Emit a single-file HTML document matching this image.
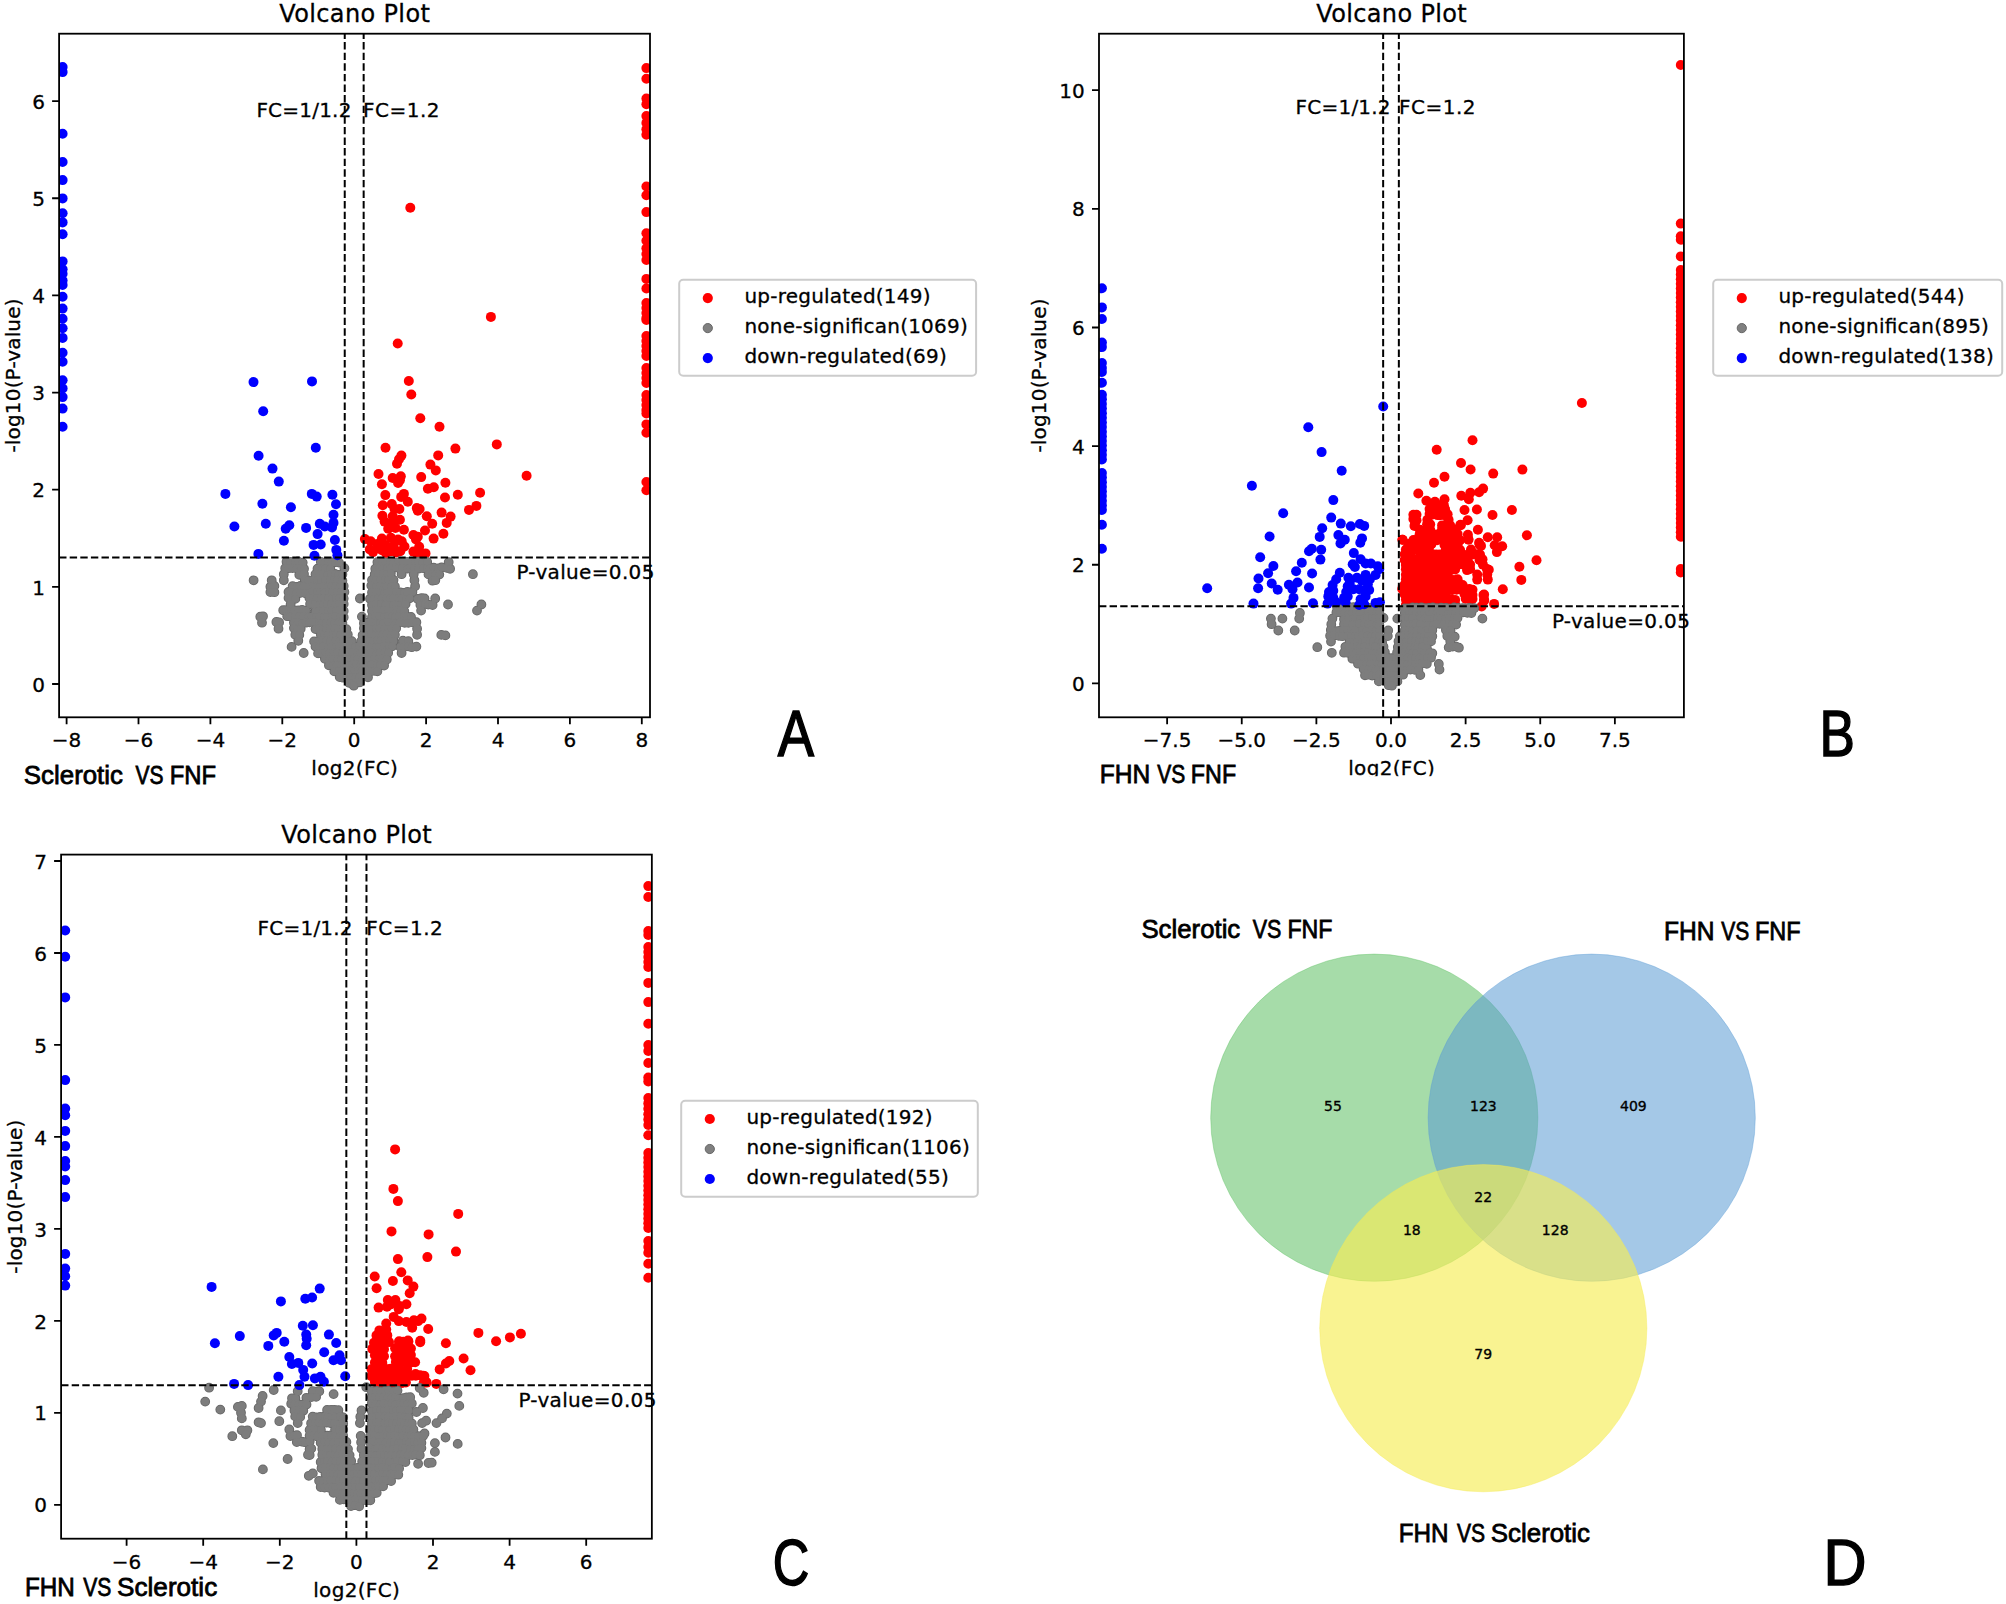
<!DOCTYPE html><html><head><meta charset="utf-8"><title>Volcano plots and Venn diagram</title>
<style>html,body{margin:0;padding:0;background:#fff}svg{display:block}text{fill:#000}</style></head><body>
<svg width="2006" height="1604" viewBox="0 0 2006 1604" role="img" aria-label="Volcano plots A-C and Venn diagram D">
<rect width="2006" height="1604" fill="#fff"/>
<clipPath id="cA"><rect x="59.1" y="33.7" width="590.9" height="683.5999999999999"/></clipPath>
<g clip-path="url(#cA)">
<g fill="#ff0000"><circle cx="410.3" cy="207.7" r="5.0"/><circle cx="490.9" cy="316.9" r="5.0"/><circle cx="397.7" cy="343.5" r="5.0"/><circle cx="408.8" cy="381" r="5.0"/><circle cx="411.3" cy="394.5" r="5.0"/><circle cx="420.3" cy="418.3" r="5.0"/><circle cx="439.5" cy="426.8" r="5.0"/><circle cx="496.8" cy="444.4" r="5.0"/><circle cx="455.4" cy="448.6" r="5.0"/><circle cx="385.5" cy="447.7" r="5.0"/><circle cx="438.2" cy="455.4" r="5.0"/><circle cx="401.4" cy="455.6" r="5.0"/><circle cx="399" cy="459.2" r="5.0"/><circle cx="397" cy="463.7" r="5.0"/><circle cx="430.4" cy="464.6" r="5.0"/><circle cx="435.8" cy="470.4" r="5.0"/><circle cx="378.5" cy="474" r="5.0"/><circle cx="526.6" cy="475.8" r="5.0"/><circle cx="421.2" cy="477.1" r="5.0"/><circle cx="400.8" cy="476.2" r="5.0"/><circle cx="392.7" cy="478" r="5.0"/><circle cx="399.9" cy="480.3" r="5.0"/><circle cx="398.1" cy="483" r="5.0"/><circle cx="381.9" cy="484.3" r="5.0"/><circle cx="445.4" cy="482.8" r="5.0"/><circle cx="433.8" cy="487.2" r="5.0"/><circle cx="427.9" cy="488.8" r="5.0"/><circle cx="480.1" cy="492.8" r="5.0"/><circle cx="457.8" cy="494.8" r="5.0"/><circle cx="385.3" cy="495.1" r="5.0"/><circle cx="403.9" cy="493.9" r="5.0"/><circle cx="401.2" cy="496.9" r="5.0"/><circle cx="445" cy="497.5" r="5.0"/><circle cx="407.8" cy="501.8" r="5.0"/><circle cx="391.8" cy="504.1" r="5.0"/><circle cx="382.8" cy="505.2" r="5.0"/><circle cx="476.4" cy="505.9" r="5.0"/><circle cx="469" cy="509.9" r="5.0"/><circle cx="416.8" cy="508.1" r="5.0"/><circle cx="419.6" cy="509" r="5.0"/><circle cx="417.8" cy="510.8" r="5.0"/><circle cx="399.4" cy="509" r="5.0"/><circle cx="394.5" cy="509" r="5.0"/><circle cx="441.6" cy="512.6" r="5.0"/><circle cx="450.6" cy="516.6" r="5.0"/><circle cx="446.7" cy="522.9" r="5.0"/><circle cx="426.8" cy="516.2" r="5.0"/><circle cx="432.2" cy="523.8" r="5.0"/><circle cx="382.4" cy="515.7" r="5.0"/><circle cx="392.7" cy="516.2" r="5.0"/><circle cx="384.6" cy="521.6" r="5.0"/><circle cx="399.9" cy="519.8" r="5.0"/><circle cx="392.7" cy="522.5" r="5.0"/><circle cx="388.2" cy="528.8" r="5.0"/><circle cx="395.4" cy="527.9" r="5.0"/><circle cx="403.9" cy="529.7" r="5.0"/><circle cx="425" cy="530.5" r="5.0"/><circle cx="443.4" cy="533.7" r="5.0"/><circle cx="433.6" cy="538.6" r="5.0"/><circle cx="413.4" cy="535" r="5.0"/><circle cx="417.8" cy="536.8" r="5.0"/><circle cx="416" cy="539.5" r="5.0"/><circle cx="364.9" cy="539.1" r="5.0"/><circle cx="370.7" cy="541.3" r="5.0"/><circle cx="381.9" cy="538.6" r="5.0"/><circle cx="390.9" cy="537.7" r="5.0"/><circle cx="398.1" cy="539.5" r="5.0"/><circle cx="401.7" cy="541.3" r="5.0"/><circle cx="377.4" cy="544" r="5.0"/><circle cx="385.5" cy="544.9" r="5.0"/><circle cx="393.6" cy="545.8" r="5.0"/><circle cx="369.8" cy="549.4" r="5.0"/><circle cx="373" cy="552.1" r="5.0"/><circle cx="381.9" cy="550.3" r="5.0"/><circle cx="390.9" cy="551.2" r="5.0"/><circle cx="400.3" cy="551.2" r="5.0"/><circle cx="419.2" cy="546.7" r="5.0"/><circle cx="413.4" cy="551.6" r="5.0"/><circle cx="425.5" cy="553.4" r="5.0"/><circle cx="417.8" cy="554.8" r="5.0"/><circle cx="396" cy="552.5" r="5.0"/><circle cx="386" cy="553" r="5.0"/><circle cx="378" cy="548" r="5.0"/><circle cx="404.5" cy="546.5" r="5.0"/><circle cx="646.4" cy="68.1" r="5.0"/><circle cx="646.4" cy="78.7" r="5.0"/><circle cx="646.4" cy="98.6" r="5.0"/><circle cx="646.4" cy="104.2" r="5.0"/><circle cx="646.4" cy="116.1" r="5.0"/><circle cx="646.4" cy="122.9" r="5.0"/><circle cx="646.4" cy="129.2" r="5.0"/><circle cx="646.4" cy="134.8" r="5.0"/><circle cx="646.4" cy="186.5" r="5.0"/><circle cx="646.4" cy="195.3" r="5.0"/><circle cx="646.4" cy="212.1" r="5.0"/><circle cx="646.4" cy="233.3" r="5.0"/><circle cx="646.4" cy="240.8" r="5.0"/><circle cx="646.4" cy="248.3" r="5.0"/><circle cx="646.4" cy="254" r="5.0"/><circle cx="646.4" cy="260" r="5.0"/><circle cx="646.4" cy="278.9" r="5.0"/><circle cx="646.4" cy="288.5" r="5.0"/><circle cx="646.4" cy="303" r="5.0"/><circle cx="646.4" cy="308" r="5.0"/><circle cx="646.4" cy="313" r="5.0"/><circle cx="646.4" cy="318" r="5.0"/><circle cx="646.4" cy="320" r="5.0"/><circle cx="646.4" cy="336" r="5.0"/><circle cx="646.4" cy="341" r="5.0"/><circle cx="646.4" cy="346" r="5.0"/><circle cx="646.4" cy="351" r="5.0"/><circle cx="646.4" cy="356" r="5.0"/><circle cx="646.4" cy="368" r="5.0"/><circle cx="646.4" cy="373" r="5.0"/><circle cx="646.4" cy="378" r="5.0"/><circle cx="646.4" cy="383" r="5.0"/><circle cx="646.4" cy="395" r="5.0"/><circle cx="646.4" cy="400" r="5.0"/><circle cx="646.4" cy="405" r="5.0"/><circle cx="646.4" cy="410" r="5.0"/><circle cx="646.4" cy="413.5" r="5.0"/><circle cx="646.4" cy="424.4" r="5.0"/><circle cx="646.4" cy="432.7" r="5.0"/><circle cx="646.4" cy="482" r="5.0"/><circle cx="646.4" cy="490.3" r="5.0"/></g>
<defs><g id="g1"><circle cx="286.5" cy="561.7" r="3.9"/><circle cx="290.6" cy="561.9" r="3.9"/><circle cx="294.8" cy="562.3" r="3.9"/><circle cx="298" cy="561.4" r="3.9"/><circle cx="302.7" cy="562.6" r="3.9"/><circle cx="320.8" cy="561.8" r="3.9"/><circle cx="324.1" cy="562.8" r="3.9"/><circle cx="328.1" cy="562.6" r="3.9"/><circle cx="331.7" cy="562.3" r="3.9"/><circle cx="334.8" cy="562.3" r="3.9"/><circle cx="339" cy="562.6" r="3.9"/><circle cx="377.4" cy="562.1" r="3.9"/><circle cx="381.9" cy="562.4" r="3.9"/><circle cx="385" cy="562.5" r="3.9"/><circle cx="390" cy="561.8" r="3.9"/><circle cx="393.2" cy="562.6" r="3.9"/><circle cx="398.1" cy="562.4" r="3.9"/><circle cx="402.9" cy="562.4" r="3.9"/><circle cx="407.1" cy="562" r="3.9"/><circle cx="411.1" cy="562" r="3.9"/><circle cx="415.4" cy="562.6" r="3.9"/><circle cx="418.2" cy="561.6" r="3.9"/><circle cx="422.6" cy="562.8" r="3.9"/><circle cx="427.2" cy="562" r="3.9"/><circle cx="448.7" cy="562.1" r="3.9"/><circle cx="285.2" cy="568.3" r="3.9"/><circle cx="288.6" cy="568.2" r="3.9"/><circle cx="292.5" cy="568" r="3.9"/><circle cx="296.6" cy="568.3" r="3.9"/><circle cx="300.9" cy="568.4" r="3.9"/><circle cx="304" cy="568.8" r="3.9"/><circle cx="317.5" cy="568.7" r="3.9"/><circle cx="322.5" cy="568.4" r="3.9"/><circle cx="325.5" cy="568.7" r="3.9"/><circle cx="330.3" cy="568.8" r="3.9"/><circle cx="344.4" cy="568.2" r="3.9"/><circle cx="375.3" cy="568.7" r="3.9"/><circle cx="379.4" cy="568.5" r="3.9"/><circle cx="382.7" cy="568.6" r="3.9"/><circle cx="387.3" cy="567.9" r="3.9"/><circle cx="390.4" cy="568.7" r="3.9"/><circle cx="395.8" cy="567.6" r="3.9"/><circle cx="399.4" cy="568" r="3.9"/><circle cx="402.3" cy="567.9" r="3.9"/><circle cx="407.2" cy="568.7" r="3.9"/><circle cx="410" cy="568.3" r="3.9"/><circle cx="413.9" cy="568.5" r="3.9"/><circle cx="418.3" cy="568.7" r="3.9"/><circle cx="423.3" cy="568.2" r="3.9"/><circle cx="427.3" cy="567.9" r="3.9"/><circle cx="429.7" cy="568.3" r="3.9"/><circle cx="433.6" cy="567.7" r="3.9"/><circle cx="438.1" cy="568.3" r="3.9"/><circle cx="441.6" cy="567.5" r="3.9"/><circle cx="446.7" cy="567.9" r="3.9"/><circle cx="450.1" cy="568.8" r="3.9"/><circle cx="283.8" cy="574.2" r="3.9"/><circle cx="299.3" cy="574.8" r="3.9"/><circle cx="304" cy="574.1" r="3.9"/><circle cx="315.5" cy="574.2" r="3.9"/><circle cx="319.3" cy="574.4" r="3.9"/><circle cx="323.3" cy="574.3" r="3.9"/><circle cx="327.2" cy="574.8" r="3.9"/><circle cx="330.9" cy="574.1" r="3.9"/><circle cx="335" cy="573.9" r="3.9"/><circle cx="338.2" cy="574.9" r="3.9"/><circle cx="342.4" cy="574.3" r="3.9"/><circle cx="374.7" cy="574.3" r="3.9"/><circle cx="377.9" cy="574.1" r="3.9"/><circle cx="382.9" cy="573.6" r="3.9"/><circle cx="387" cy="574.4" r="3.9"/><circle cx="390.8" cy="573.6" r="3.9"/><circle cx="401.6" cy="574.2" r="3.9"/><circle cx="413.7" cy="574.2" r="3.9"/><circle cx="428.5" cy="574.4" r="3.9"/><circle cx="432.1" cy="574.5" r="3.9"/><circle cx="435.5" cy="574.5" r="3.9"/><circle cx="439.3" cy="574.6" r="3.9"/><circle cx="472.9" cy="574.2" r="3.9"/><circle cx="253.6" cy="580.3" r="3.9"/><circle cx="271.7" cy="580.3" r="3.9"/><circle cx="283.8" cy="580.3" r="3.9"/><circle cx="304.7" cy="579.6" r="3.9"/><circle cx="308.2" cy="580.5" r="3.9"/><circle cx="313.8" cy="579.9" r="3.9"/><circle cx="317.2" cy="580.4" r="3.9"/><circle cx="321.2" cy="580.1" r="3.9"/><circle cx="325.3" cy="580.1" r="3.9"/><circle cx="330" cy="580" r="3.9"/><circle cx="333.8" cy="580.7" r="3.9"/><circle cx="337.4" cy="580.4" r="3.9"/><circle cx="342.4" cy="580.6" r="3.9"/><circle cx="372" cy="580" r="3.9"/><circle cx="375.8" cy="580.7" r="3.9"/><circle cx="380.2" cy="579.8" r="3.9"/><circle cx="384.8" cy="580.6" r="3.9"/><circle cx="388.6" cy="580" r="3.9"/><circle cx="393.5" cy="580" r="3.9"/><circle cx="414.4" cy="580.3" r="3.9"/><circle cx="432.5" cy="580.7" r="3.9"/><circle cx="435.3" cy="580.2" r="3.9"/><circle cx="270.4" cy="586.8" r="3.9"/><circle cx="274.4" cy="585.9" r="3.9"/><circle cx="292.6" cy="586.1" r="3.9"/><circle cx="296.7" cy="586.9" r="3.9"/><circle cx="300.4" cy="586" r="3.9"/><circle cx="303.8" cy="586.4" r="3.9"/><circle cx="307.8" cy="586.8" r="3.9"/><circle cx="312.8" cy="585.9" r="3.9"/><circle cx="315.8" cy="586.8" r="3.9"/><circle cx="320.4" cy="586.8" r="3.9"/><circle cx="323.8" cy="585.8" r="3.9"/><circle cx="327.7" cy="586.8" r="3.9"/><circle cx="331.6" cy="586.1" r="3.9"/><circle cx="335.7" cy="586.2" r="3.9"/><circle cx="339.7" cy="586.9" r="3.9"/><circle cx="343.7" cy="585.9" r="3.9"/><circle cx="371.3" cy="585.6" r="3.9"/><circle cx="375.9" cy="586.9" r="3.9"/><circle cx="379.9" cy="586.2" r="3.9"/><circle cx="383.8" cy="586.9" r="3.9"/><circle cx="386.6" cy="586.7" r="3.9"/><circle cx="391.5" cy="586.6" r="3.9"/><circle cx="394.9" cy="586.4" r="3.9"/><circle cx="415.1" cy="586.3" r="3.9"/><circle cx="270.4" cy="592.1" r="3.9"/><circle cx="274.4" cy="592.2" r="3.9"/><circle cx="288.5" cy="592" r="3.9"/><circle cx="291.8" cy="592.5" r="3.9"/><circle cx="296.2" cy="592.8" r="3.9"/><circle cx="299.8" cy="593" r="3.9"/><circle cx="304.8" cy="593" r="3.9"/><circle cx="309.1" cy="593" r="3.9"/><circle cx="312.6" cy="591.7" r="3.9"/><circle cx="316.9" cy="591.9" r="3.9"/><circle cx="320.1" cy="592.6" r="3.9"/><circle cx="324.5" cy="592.3" r="3.9"/><circle cx="329.1" cy="592.6" r="3.9"/><circle cx="332.2" cy="592" r="3.9"/><circle cx="337" cy="592.4" r="3.9"/><circle cx="340.9" cy="592.2" r="3.9"/><circle cx="344.4" cy="592" r="3.9"/><circle cx="372" cy="592.4" r="3.9"/><circle cx="376.5" cy="591.9" r="3.9"/><circle cx="380.5" cy="593" r="3.9"/><circle cx="384.6" cy="592.8" r="3.9"/><circle cx="387.4" cy="592.6" r="3.9"/><circle cx="392.8" cy="591.8" r="3.9"/><circle cx="395.9" cy="592.1" r="3.9"/><circle cx="400.3" cy="592.3" r="3.9"/><circle cx="404.3" cy="592.8" r="3.9"/><circle cx="407.5" cy="591.8" r="3.9"/><circle cx="412.4" cy="591.9" r="3.9"/><circle cx="288.5" cy="597.9" r="3.9"/><circle cx="291.2" cy="599.1" r="3.9"/><circle cx="295.3" cy="598.9" r="3.9"/><circle cx="309.4" cy="597.9" r="3.9"/><circle cx="313.2" cy="598.2" r="3.9"/><circle cx="316.7" cy="598.2" r="3.9"/><circle cx="321.1" cy="598.6" r="3.9"/><circle cx="324.4" cy="598" r="3.9"/><circle cx="328.2" cy="597.9" r="3.9"/><circle cx="332.4" cy="598.8" r="3.9"/><circle cx="335.9" cy="597.9" r="3.9"/><circle cx="339.4" cy="598.3" r="3.9"/><circle cx="343.7" cy="598.6" r="3.9"/><circle cx="359.9" cy="598.5" r="3.9"/><circle cx="370" cy="598.8" r="3.9"/><circle cx="373.7" cy="598.9" r="3.9"/><circle cx="378.1" cy="598.4" r="3.9"/><circle cx="381.7" cy="598.4" r="3.9"/><circle cx="386.2" cy="598.3" r="3.9"/><circle cx="390.1" cy="598.4" r="3.9"/><circle cx="393.4" cy="598.5" r="3.9"/><circle cx="398.1" cy="597.9" r="3.9"/><circle cx="401.6" cy="598.3" r="3.9"/><circle cx="406.3" cy="599.1" r="3.9"/><circle cx="409.7" cy="598.3" r="3.9"/><circle cx="417.7" cy="599" r="3.9"/><circle cx="421.6" cy="598.1" r="3.9"/><circle cx="424.5" cy="598.4" r="3.9"/><circle cx="435.2" cy="598.5" r="3.9"/><circle cx="290.6" cy="604.5" r="3.9"/><circle cx="310.1" cy="604" r="3.9"/><circle cx="314.8" cy="604.7" r="3.9"/><circle cx="319.1" cy="604.9" r="3.9"/><circle cx="323" cy="604.8" r="3.9"/><circle cx="327" cy="604" r="3.9"/><circle cx="331.3" cy="603.8" r="3.9"/><circle cx="334.8" cy="604.9" r="3.9"/><circle cx="338.8" cy="603.9" r="3.9"/><circle cx="343.7" cy="603.9" r="3.9"/><circle cx="372" cy="605" r="3.9"/><circle cx="375.7" cy="603.8" r="3.9"/><circle cx="380.9" cy="604" r="3.9"/><circle cx="385.2" cy="604.8" r="3.9"/><circle cx="389.4" cy="605.1" r="3.9"/><circle cx="393.2" cy="604.9" r="3.9"/><circle cx="396.5" cy="604.9" r="3.9"/><circle cx="401.5" cy="604.8" r="3.9"/><circle cx="405.6" cy="604" r="3.9"/><circle cx="420.4" cy="604.9" r="3.9"/><circle cx="425.2" cy="603.9" r="3.9"/><circle cx="428.2" cy="604.6" r="3.9"/><circle cx="432.6" cy="605" r="3.9"/><circle cx="448" cy="604.5" r="3.9"/><circle cx="481.4" cy="604.5" r="3.9"/><circle cx="283.2" cy="610.2" r="3.9"/><circle cx="286.5" cy="610.2" r="3.9"/><circle cx="291" cy="610.9" r="3.9"/><circle cx="294.4" cy="610.4" r="3.9"/><circle cx="298.3" cy="610.4" r="3.9"/><circle cx="302.1" cy="610" r="3.9"/><circle cx="306.1" cy="610.6" r="3.9"/><circle cx="315.5" cy="611.2" r="3.9"/><circle cx="319.4" cy="610.9" r="3.9"/><circle cx="323" cy="610.8" r="3.9"/><circle cx="328" cy="610.8" r="3.9"/><circle cx="331.6" cy="610.5" r="3.9"/><circle cx="335.9" cy="611.1" r="3.9"/><circle cx="339.1" cy="610" r="3.9"/><circle cx="343.7" cy="610.9" r="3.9"/><circle cx="372" cy="611.1" r="3.9"/><circle cx="376" cy="610.5" r="3.9"/><circle cx="380.4" cy="610.1" r="3.9"/><circle cx="383.7" cy="610.1" r="3.9"/><circle cx="388.3" cy="610.3" r="3.9"/><circle cx="391.8" cy="610.8" r="3.9"/><circle cx="396.9" cy="610.3" r="3.9"/><circle cx="400.6" cy="610.4" r="3.9"/><circle cx="404.3" cy="611.1" r="3.9"/><circle cx="421.1" cy="610.6" r="3.9"/><circle cx="477" cy="610.6" r="3.9"/><circle cx="260.3" cy="616.7" r="3.9"/><circle cx="263" cy="616.3" r="3.9"/><circle cx="287.2" cy="616.2" r="3.9"/><circle cx="290.5" cy="616.6" r="3.9"/><circle cx="295.1" cy="616.2" r="3.9"/><circle cx="299.1" cy="616.4" r="3.9"/><circle cx="303.8" cy="616.1" r="3.9"/><circle cx="308.2" cy="616.6" r="3.9"/><circle cx="311.6" cy="616.6" r="3.9"/><circle cx="316" cy="617.1" r="3.9"/><circle cx="319.6" cy="616.6" r="3.9"/><circle cx="323.9" cy="617.1" r="3.9"/><circle cx="327.4" cy="616.9" r="3.9"/><circle cx="332.4" cy="616.6" r="3.9"/><circle cx="335.2" cy="616.3" r="3.9"/><circle cx="340" cy="616.9" r="3.9"/><circle cx="343.7" cy="617.3" r="3.9"/><circle cx="361.9" cy="616.6" r="3.9"/><circle cx="372" cy="617.1" r="3.9"/><circle cx="375.5" cy="616.2" r="3.9"/><circle cx="379.4" cy="616.2" r="3.9"/><circle cx="384" cy="617.1" r="3.9"/><circle cx="388.2" cy="616.3" r="3.9"/><circle cx="392.1" cy="616.4" r="3.9"/><circle cx="395.3" cy="616.9" r="3.9"/><circle cx="398.7" cy="616.1" r="3.9"/><circle cx="403.8" cy="616.3" r="3.9"/><circle cx="406.9" cy="616.7" r="3.9"/><circle cx="411" cy="616.9" r="3.9"/><circle cx="262" cy="622.7" r="3.9"/><circle cx="276.4" cy="622" r="3.9"/><circle cx="279.1" cy="622.4" r="3.9"/><circle cx="293.9" cy="622.6" r="3.9"/><circle cx="297.9" cy="622.3" r="3.9"/><circle cx="302.1" cy="623.3" r="3.9"/><circle cx="305.9" cy="622.7" r="3.9"/><circle cx="309.5" cy="622.4" r="3.9"/><circle cx="314.4" cy="622.1" r="3.9"/><circle cx="318.8" cy="623.3" r="3.9"/><circle cx="321.6" cy="623.3" r="3.9"/><circle cx="326" cy="623.1" r="3.9"/><circle cx="330.7" cy="622.4" r="3.9"/><circle cx="334.6" cy="622.9" r="3.9"/><circle cx="338.8" cy="622.4" r="3.9"/><circle cx="342.4" cy="623" r="3.9"/><circle cx="363.9" cy="623.3" r="3.9"/><circle cx="368.2" cy="622.7" r="3.9"/><circle cx="371.4" cy="622.7" r="3.9"/><circle cx="375.8" cy="623" r="3.9"/><circle cx="380.3" cy="622.8" r="3.9"/><circle cx="383.6" cy="622.9" r="3.9"/><circle cx="388.4" cy="622.2" r="3.9"/><circle cx="392.8" cy="622.9" r="3.9"/><circle cx="395.6" cy="623.3" r="3.9"/><circle cx="399.7" cy="622.4" r="3.9"/><circle cx="404.7" cy="622.8" r="3.9"/><circle cx="408.4" cy="622.9" r="3.9"/><circle cx="412.3" cy="622.4" r="3.9"/><circle cx="416.4" cy="622.2" r="3.9"/><circle cx="278.5" cy="628.7" r="3.9"/><circle cx="293.9" cy="628.1" r="3.9"/><circle cx="297.6" cy="629.1" r="3.9"/><circle cx="300.7" cy="628.8" r="3.9"/><circle cx="315.5" cy="629.1" r="3.9"/><circle cx="319.1" cy="628.4" r="3.9"/><circle cx="323" cy="629.3" r="3.9"/><circle cx="326.3" cy="628.7" r="3.9"/><circle cx="330.5" cy="629.1" r="3.9"/><circle cx="334.6" cy="628.5" r="3.9"/><circle cx="338.5" cy="628.8" r="3.9"/><circle cx="343" cy="628.5" r="3.9"/><circle cx="346.4" cy="629.2" r="3.9"/><circle cx="363.9" cy="628.2" r="3.9"/><circle cx="367.6" cy="628.2" r="3.9"/><circle cx="371.4" cy="629.1" r="3.9"/><circle cx="376.4" cy="628.3" r="3.9"/><circle cx="379.6" cy="628.6" r="3.9"/><circle cx="384.5" cy="629.2" r="3.9"/><circle cx="388.5" cy="628.9" r="3.9"/><circle cx="391.6" cy="628.6" r="3.9"/><circle cx="396.2" cy="628.3" r="3.9"/><circle cx="417.1" cy="628.7" r="3.9"/><circle cx="295.3" cy="634.8" r="3.9"/><circle cx="299.3" cy="634.9" r="3.9"/><circle cx="320.8" cy="634.4" r="3.9"/><circle cx="324.3" cy="635.2" r="3.9"/><circle cx="327.8" cy="635.2" r="3.9"/><circle cx="333" cy="635.4" r="3.9"/><circle cx="336" cy="634.9" r="3.9"/><circle cx="340.2" cy="635" r="3.9"/><circle cx="344.7" cy="635.1" r="3.9"/><circle cx="347.8" cy="634.5" r="3.9"/><circle cx="362.6" cy="635.3" r="3.9"/><circle cx="366.6" cy="634.9" r="3.9"/><circle cx="371" cy="634.1" r="3.9"/><circle cx="375.1" cy="635" r="3.9"/><circle cx="378.7" cy="634.8" r="3.9"/><circle cx="382.7" cy="634.4" r="3.9"/><circle cx="386.8" cy="634.1" r="3.9"/><circle cx="390.8" cy="635" r="3.9"/><circle cx="394.9" cy="634.7" r="3.9"/><circle cx="417.1" cy="634.8" r="3.9"/><circle cx="441.3" cy="634.9" r="3.9"/><circle cx="445.4" cy="635.4" r="3.9"/><circle cx="298.3" cy="640.8" r="3.9"/><circle cx="314.1" cy="641.4" r="3.9"/><circle cx="317.7" cy="641.3" r="3.9"/><circle cx="322.7" cy="640.2" r="3.9"/><circle cx="326.5" cy="640.5" r="3.9"/><circle cx="330.2" cy="640.9" r="3.9"/><circle cx="335.7" cy="640.6" r="3.9"/><circle cx="339.8" cy="641.1" r="3.9"/><circle cx="342.8" cy="641.3" r="3.9"/><circle cx="347.8" cy="641.4" r="3.9"/><circle cx="351.8" cy="641.2" r="3.9"/><circle cx="361.2" cy="641.2" r="3.9"/><circle cx="365" cy="641.3" r="3.9"/><circle cx="370" cy="641.4" r="3.9"/><circle cx="373.2" cy="641.2" r="3.9"/><circle cx="377.4" cy="640.3" r="3.9"/><circle cx="380.7" cy="640.3" r="3.9"/><circle cx="385" cy="640.4" r="3.9"/><circle cx="389.5" cy="641.1" r="3.9"/><circle cx="393.5" cy="640.9" r="3.9"/><circle cx="402.9" cy="640.7" r="3.9"/><circle cx="408.3" cy="641.1" r="3.9"/><circle cx="291.6" cy="646.9" r="3.9"/><circle cx="315.5" cy="646.6" r="3.9"/><circle cx="319.4" cy="647.3" r="3.9"/><circle cx="323.4" cy="646.5" r="3.9"/><circle cx="328.2" cy="647.2" r="3.9"/><circle cx="331.4" cy="646.7" r="3.9"/><circle cx="335.7" cy="647" r="3.9"/><circle cx="339.2" cy="646.2" r="3.9"/><circle cx="343.3" cy="647.3" r="3.9"/><circle cx="347.2" cy="646.8" r="3.9"/><circle cx="351.3" cy="646.5" r="3.9"/><circle cx="355.3" cy="646.8" r="3.9"/><circle cx="359.3" cy="646.2" r="3.9"/><circle cx="363.3" cy="646.4" r="3.9"/><circle cx="367.9" cy="646.3" r="3.9"/><circle cx="371.2" cy="646.8" r="3.9"/><circle cx="375.9" cy="647.2" r="3.9"/><circle cx="379.4" cy="646.8" r="3.9"/><circle cx="383.9" cy="646.2" r="3.9"/><circle cx="388.9" cy="646.5" r="3.9"/><circle cx="392.2" cy="646.3" r="3.9"/><circle cx="400.2" cy="646.9" r="3.9"/><circle cx="403.8" cy="647.1" r="3.9"/><circle cx="408.1" cy="646.4" r="3.9"/><circle cx="411.7" cy="647.2" r="3.9"/><circle cx="416.4" cy="646.6" r="3.9"/><circle cx="303.7" cy="653" r="3.9"/><circle cx="318.1" cy="653.4" r="3.9"/><circle cx="322" cy="653.6" r="3.9"/><circle cx="325.6" cy="652.6" r="3.9"/><circle cx="329.4" cy="653.4" r="3.9"/><circle cx="333.9" cy="652.7" r="3.9"/><circle cx="336.9" cy="653.2" r="3.9"/><circle cx="342.2" cy="653.1" r="3.9"/><circle cx="344.6" cy="652.3" r="3.9"/><circle cx="348.6" cy="652.5" r="3.9"/><circle cx="352.4" cy="652.3" r="3.9"/><circle cx="357.3" cy="653.5" r="3.9"/><circle cx="360.4" cy="653.6" r="3.9"/><circle cx="364.8" cy="653.4" r="3.9"/><circle cx="369.4" cy="653.6" r="3.9"/><circle cx="371.9" cy="652.7" r="3.9"/><circle cx="376.7" cy="653.6" r="3.9"/><circle cx="379.7" cy="652.7" r="3.9"/><circle cx="384.8" cy="652.4" r="3.9"/><circle cx="388.2" cy="652.8" r="3.9"/><circle cx="401.6" cy="653" r="3.9"/><circle cx="324.9" cy="658.8" r="3.9"/><circle cx="329.3" cy="659.6" r="3.9"/><circle cx="332.6" cy="659.4" r="3.9"/><circle cx="337.6" cy="659.5" r="3.9"/><circle cx="341.5" cy="659.6" r="3.9"/><circle cx="345.3" cy="658.9" r="3.9"/><circle cx="349.2" cy="659.4" r="3.9"/><circle cx="353.7" cy="658.7" r="3.9"/><circle cx="357.4" cy="659.3" r="3.9"/><circle cx="362.2" cy="659.3" r="3.9"/><circle cx="366" cy="659" r="3.9"/><circle cx="369.7" cy="659.3" r="3.9"/><circle cx="373.7" cy="659" r="3.9"/><circle cx="379" cy="659.3" r="3.9"/><circle cx="382" cy="658.6" r="3.9"/><circle cx="386.8" cy="659.5" r="3.9"/><circle cx="328.9" cy="665.3" r="3.9"/><circle cx="333.5" cy="665.6" r="3.9"/><circle cx="336.7" cy="665.6" r="3.9"/><circle cx="341.1" cy="664.8" r="3.9"/><circle cx="344.5" cy="664.5" r="3.9"/><circle cx="348.5" cy="665.7" r="3.9"/><circle cx="351.9" cy="665.2" r="3.9"/><circle cx="355.9" cy="664.5" r="3.9"/><circle cx="360.7" cy="664.7" r="3.9"/><circle cx="363.7" cy="664.6" r="3.9"/><circle cx="368.6" cy="665.2" r="3.9"/><circle cx="371.5" cy="664.7" r="3.9"/><circle cx="377" cy="664.7" r="3.9"/><circle cx="380.3" cy="665" r="3.9"/><circle cx="384.1" cy="665.5" r="3.9"/><circle cx="334.3" cy="671.3" r="3.9"/><circle cx="338.7" cy="671.2" r="3.9"/><circle cx="341.6" cy="670.7" r="3.9"/><circle cx="345.4" cy="671.6" r="3.9"/><circle cx="349.3" cy="670.5" r="3.9"/><circle cx="354.6" cy="670.7" r="3.9"/><circle cx="358.4" cy="670.6" r="3.9"/><circle cx="361.7" cy="670.7" r="3.9"/><circle cx="366.2" cy="671.3" r="3.9"/><circle cx="369.8" cy="671.5" r="3.9"/><circle cx="374.1" cy="670.9" r="3.9"/><circle cx="377.4" cy="671.3" r="3.9"/><circle cx="339.7" cy="677.1" r="3.9"/><circle cx="343.1" cy="677.7" r="3.9"/><circle cx="347.9" cy="677.6" r="3.9"/><circle cx="351.3" cy="677.2" r="3.9"/><circle cx="355.8" cy="677.5" r="3.9"/><circle cx="359.2" cy="677" r="3.9"/><circle cx="363.9" cy="676.6" r="3.9"/><circle cx="368" cy="677.3" r="3.9"/><circle cx="349.1" cy="682.9" r="3.9"/><circle cx="352.6" cy="682.8" r="3.9"/><circle cx="356.5" cy="682.2" r="3.9"/><circle cx="359.9" cy="682.4" r="3.9"/><circle cx="353.8" cy="685.7" r="3.9"/></g></defs><use href="#g1" fill="#676767" stroke="#676767" stroke-width="2"/><use href="#g1" fill="#7d7d7d" stroke="#7d7d7d" stroke-width="0.3"/>
<g fill="#0000ff"><circle cx="253.5" cy="382.1" r="5.0"/><circle cx="312" cy="381.4" r="5.0"/><circle cx="263.2" cy="411.3" r="5.0"/><circle cx="315.8" cy="447.8" r="5.0"/><circle cx="258.6" cy="455.8" r="5.0"/><circle cx="272.5" cy="468.6" r="5.0"/><circle cx="278.8" cy="481.6" r="5.0"/><circle cx="225.4" cy="493.9" r="5.0"/><circle cx="311.8" cy="493.9" r="5.0"/><circle cx="316.7" cy="496.6" r="5.0"/><circle cx="332.4" cy="494.8" r="5.0"/><circle cx="336" cy="504.3" r="5.0"/><circle cx="262.4" cy="503.8" r="5.0"/><circle cx="290.9" cy="507.2" r="5.0"/><circle cx="333.5" cy="514.8" r="5.0"/><circle cx="265.8" cy="523.8" r="5.0"/><circle cx="234.4" cy="526.5" r="5.0"/><circle cx="289.3" cy="525.2" r="5.0"/><circle cx="285.7" cy="528.8" r="5.0"/><circle cx="306.1" cy="527.9" r="5.0"/><circle cx="319.8" cy="523.8" r="5.0"/><circle cx="324.8" cy="526.5" r="5.0"/><circle cx="333.5" cy="522.9" r="5.0"/><circle cx="332" cy="527.4" r="5.0"/><circle cx="317.6" cy="534.1" r="5.0"/><circle cx="283.9" cy="540.7" r="5.0"/><circle cx="334.9" cy="540" r="5.0"/><circle cx="313.6" cy="544.9" r="5.0"/><circle cx="320.7" cy="544.5" r="5.0"/><circle cx="336.3" cy="549.9" r="5.0"/><circle cx="258.4" cy="553.9" r="5.0"/><circle cx="314.5" cy="555.7" r="5.0"/><circle cx="337.4" cy="555.2" r="5.0"/><circle cx="62.6" cy="67.1" r="5.0"/><circle cx="62.6" cy="72.1" r="5.0"/><circle cx="62.6" cy="133.7" r="5.0"/><circle cx="62.6" cy="162" r="5.0"/><circle cx="62.6" cy="180.1" r="5.0"/><circle cx="62.6" cy="198.4" r="5.0"/><circle cx="62.6" cy="213.3" r="5.0"/><circle cx="62.6" cy="222.4" r="5.0"/><circle cx="62.6" cy="234.3" r="5.0"/><circle cx="62.6" cy="261.4" r="5.0"/><circle cx="62.6" cy="269.3" r="5.0"/><circle cx="62.6" cy="273.7" r="5.0"/><circle cx="62.6" cy="280.5" r="5.0"/><circle cx="62.6" cy="284.9" r="5.0"/><circle cx="62.6" cy="296.7" r="5.0"/><circle cx="62.6" cy="308.6" r="5.0"/><circle cx="62.6" cy="318.8" r="5.0"/><circle cx="62.6" cy="328.3" r="5.0"/><circle cx="62.6" cy="337.9" r="5.0"/><circle cx="62.6" cy="352.8" r="5.0"/><circle cx="62.6" cy="361.8" r="5.0"/><circle cx="62.6" cy="380.3" r="5.0"/><circle cx="62.6" cy="388.4" r="5.0"/><circle cx="62.6" cy="397.1" r="5.0"/><circle cx="62.6" cy="408.6" r="5.0"/><circle cx="62.6" cy="426.7" r="5.0"/></g>
<path d="M344.74 717.3V33.7" stroke="#000" stroke-width="2" stroke-dasharray="7.4 3.2" fill="none"/>
<path d="M363.66 717.3V33.7" stroke="#000" stroke-width="2" stroke-dasharray="7.4 3.2" fill="none"/>
<path d="M59.1 557.6H650" stroke="#000" stroke-width="2" stroke-dasharray="7.4 3.2" fill="none"/>
</g>
<text x="256.4" y="116.9" font-size="20" text-anchor="start" font-family="'DejaVu Sans', sans-serif" stroke="#000" stroke-width="0.3" textLength="95" lengthAdjust="spacing" >FC=1/1.2</text>
<text x="363" y="116.9" font-size="20" text-anchor="start" font-family="'DejaVu Sans', sans-serif" stroke="#000" stroke-width="0.3" textLength="76.6" lengthAdjust="spacing" >FC=1.2</text>
<text x="516.4" y="579" font-size="20" text-anchor="start" font-family="'DejaVu Sans', sans-serif" stroke="#000" stroke-width="0.3" textLength="138" lengthAdjust="spacing" >P-value=0.05</text>
<rect x="59.1" y="33.7" width="590.9" height="683.6" fill="none" stroke="#000" stroke-width="1.8"/>
<text x="66.6" y="747.3" font-size="20" text-anchor="middle" font-family="'DejaVu Sans', sans-serif" stroke="#000" stroke-width="0.3" >−8</text>
<text x="138.5" y="747.3" font-size="20" text-anchor="middle" font-family="'DejaVu Sans', sans-serif" stroke="#000" stroke-width="0.3" >−6</text>
<text x="210.4" y="747.3" font-size="20" text-anchor="middle" font-family="'DejaVu Sans', sans-serif" stroke="#000" stroke-width="0.3" >−4</text>
<text x="282.3" y="747.3" font-size="20" text-anchor="middle" font-family="'DejaVu Sans', sans-serif" stroke="#000" stroke-width="0.3" >−2</text>
<text x="354.2" y="747.3" font-size="20" text-anchor="middle" font-family="'DejaVu Sans', sans-serif" stroke="#000" stroke-width="0.3" >0</text>
<text x="426.1" y="747.3" font-size="20" text-anchor="middle" font-family="'DejaVu Sans', sans-serif" stroke="#000" stroke-width="0.3" >2</text>
<text x="498" y="747.3" font-size="20" text-anchor="middle" font-family="'DejaVu Sans', sans-serif" stroke="#000" stroke-width="0.3" >4</text>
<text x="569.9" y="747.3" font-size="20" text-anchor="middle" font-family="'DejaVu Sans', sans-serif" stroke="#000" stroke-width="0.3" >6</text>
<text x="641.8" y="747.3" font-size="20" text-anchor="middle" font-family="'DejaVu Sans', sans-serif" stroke="#000" stroke-width="0.3" >8</text>
<text x="44.9" y="691.6" font-size="20" text-anchor="end" font-family="'DejaVu Sans', sans-serif" stroke="#000" stroke-width="0.3" >0</text>
<text x="44.9" y="594.5" font-size="20" text-anchor="end" font-family="'DejaVu Sans', sans-serif" stroke="#000" stroke-width="0.3" >1</text>
<text x="44.9" y="497.3" font-size="20" text-anchor="end" font-family="'DejaVu Sans', sans-serif" stroke="#000" stroke-width="0.3" >2</text>
<text x="44.9" y="400.1" font-size="20" text-anchor="end" font-family="'DejaVu Sans', sans-serif" stroke="#000" stroke-width="0.3" >3</text>
<text x="44.9" y="303" font-size="20" text-anchor="end" font-family="'DejaVu Sans', sans-serif" stroke="#000" stroke-width="0.3" >4</text>
<text x="44.9" y="205.8" font-size="20" text-anchor="end" font-family="'DejaVu Sans', sans-serif" stroke="#000" stroke-width="0.3" >5</text>
<text x="44.9" y="108.7" font-size="20" text-anchor="end" font-family="'DejaVu Sans', sans-serif" stroke="#000" stroke-width="0.3" >6</text>
<path d="M66.6 717.3v7M138.5 717.3v7M210.4 717.3v7M282.3 717.3v7M354.2 717.3v7M426.1 717.3v7M498 717.3v7M569.9 717.3v7M641.8 717.3v7M59.1 684h-7M59.1 586.85h-7M59.1 489.7h-7M59.1 392.55h-7M59.1 295.4h-7M59.1 198.25h-7M59.1 101.1h-7" stroke="#000" stroke-width="1.8" fill="none"/>
<text x="354.6" y="21.6" font-size="24" text-anchor="middle" font-family="'DejaVu Sans', sans-serif" stroke="#000" stroke-width="0.3" textLength="150.5" lengthAdjust="spacing" >Volcano Plot</text>
<text x="354.6" y="775.1" font-size="20" text-anchor="middle" font-family="'DejaVu Sans', sans-serif" stroke="#000" stroke-width="0.3" textLength="86.5" lengthAdjust="spacing" >log2(FC)</text>
<text transform="translate(19.5 375.5) rotate(-90)" font-size="20" text-anchor="middle" font-family="'DejaVu Sans', sans-serif" stroke="#000" stroke-width="0.3" textLength="154" lengthAdjust="spacing">-log10(P-value)</text>
<rect x="679.2" y="279.8" width="296.9" height="96" rx="4" ry="4" fill="#fff" stroke="#cccccc" stroke-width="2"/>
<circle cx="707.8" cy="298.1" r="5.1" fill="#ff0000"/>
<text x="744.4" y="303" font-size="20" text-anchor="start" font-family="'DejaVu Sans', sans-serif" stroke="#000" stroke-width="0.3" textLength="186.1" lengthAdjust="spacing" >up-regulated(149)</text>
<circle cx="707.8" cy="328.1" r="4.6" fill="#808080" stroke="#676767" stroke-width="1"/>
<text x="744.4" y="333" font-size="20" text-anchor="start" font-family="'DejaVu Sans', sans-serif" stroke="#000" stroke-width="0.3" textLength="223.4" lengthAdjust="spacing" >none-significan(1069)</text>
<circle cx="707.8" cy="358.1" r="5.1" fill="#0000ff"/>
<text x="744.4" y="363" font-size="20" text-anchor="start" font-family="'DejaVu Sans', sans-serif" stroke="#000" stroke-width="0.3" textLength="202.3" lengthAdjust="spacing" >down-regulated(69)</text>
<clipPath id="cB"><rect x="1099.0" y="33.7" width="584.9000000000001" height="683.5999999999999"/></clipPath>
<g clip-path="url(#cB)">
<g fill="#ff0000"><circle cx="1472.5" cy="440.2" r="5.0"/><circle cx="1436.7" cy="449.7" r="5.0"/><circle cx="1461" cy="463" r="5.0"/><circle cx="1470.6" cy="469.5" r="5.0"/><circle cx="1522.4" cy="469.6" r="5.0"/><circle cx="1493.2" cy="473.6" r="5.0"/><circle cx="1444.5" cy="476.7" r="5.0"/><circle cx="1434" cy="482.7" r="5.0"/><circle cx="1483.1" cy="488.6" r="5.0"/><circle cx="1479.1" cy="492.3" r="5.0"/><circle cx="1470.4" cy="492.7" r="5.0"/><circle cx="1461.3" cy="495.7" r="5.0"/><circle cx="1468.8" cy="499.2" r="5.0"/><circle cx="1418.3" cy="493.5" r="5.0"/><circle cx="1426.4" cy="500.8" r="5.0"/><circle cx="1434.9" cy="501.7" r="5.0"/><circle cx="1444.5" cy="499.2" r="5.0"/><circle cx="1511.9" cy="510" r="5.0"/><circle cx="1476.9" cy="509.5" r="5.0"/><circle cx="1464.5" cy="510" r="5.0"/><circle cx="1492.5" cy="515" r="5.0"/><circle cx="1414.9" cy="516.6" r="5.0"/><circle cx="1414.5" cy="526" r="5.0"/><circle cx="1467.6" cy="520.3" r="5.0"/><circle cx="1460.8" cy="525.3" r="5.0"/><circle cx="1477.9" cy="529.7" r="5.0"/><circle cx="1526.9" cy="535.3" r="5.0"/><circle cx="1487.8" cy="537.2" r="5.0"/><circle cx="1497.2" cy="537.2" r="5.0"/><circle cx="1468.3" cy="539" r="5.0"/><circle cx="1479.1" cy="542.8" r="5.0"/><circle cx="1481" cy="545.9" r="5.0"/><circle cx="1494.7" cy="545.3" r="5.0"/><circle cx="1502.2" cy="546.2" r="5.0"/><circle cx="1496.9" cy="552.1" r="5.0"/><circle cx="1402.5" cy="539.7" r="5.0"/><circle cx="1536.5" cy="560.2" r="5.0"/><circle cx="1519.4" cy="566.7" r="5.0"/><circle cx="1521.3" cy="579.9" r="5.0"/><circle cx="1502.8" cy="589.2" r="5.0"/><circle cx="1494.1" cy="603.9" r="5.0"/><circle cx="1483.5" cy="595.1" r="5.0"/><circle cx="1484.1" cy="600.8" r="5.0"/><circle cx="1481.6" cy="606.4" r="5.0"/><circle cx="1432.1" cy="504.9" r="5.0"/><circle cx="1436.4" cy="505.2" r="5.0"/><circle cx="1440.7" cy="505.1" r="5.0"/><circle cx="1443.9" cy="505.4" r="5.0"/><circle cx="1429.6" cy="509.1" r="5.0"/><circle cx="1433.4" cy="510.4" r="5.0"/><circle cx="1437.6" cy="510.3" r="5.0"/><circle cx="1440.6" cy="509.7" r="5.0"/><circle cx="1445.1" cy="509.4" r="5.0"/><circle cx="1413.4" cy="514.8" r="5.0"/><circle cx="1416.5" cy="514.8" r="5.0"/><circle cx="1429.6" cy="514.1" r="5.0"/><circle cx="1432.7" cy="514.4" r="5.0"/><circle cx="1437.5" cy="515.1" r="5.0"/><circle cx="1439.9" cy="515.2" r="5.0"/><circle cx="1443.4" cy="514.9" r="5.0"/><circle cx="1447.6" cy="514.2" r="5.0"/><circle cx="1413.4" cy="519" r="5.0"/><circle cx="1416.5" cy="520.2" r="5.0"/><circle cx="1427.4" cy="519.7" r="5.0"/><circle cx="1448.6" cy="519.7" r="5.0"/><circle cx="1414.9" cy="524.7" r="5.0"/><circle cx="1427.1" cy="524.3" r="5.0"/><circle cx="1430.2" cy="524.3" r="5.0"/><circle cx="1442.1" cy="525.4" r="5.0"/><circle cx="1446.7" cy="524.4" r="5.0"/><circle cx="1450.1" cy="525.4" r="5.0"/><circle cx="1460.4" cy="524.7" r="5.0"/><circle cx="1419.9" cy="529.7" r="5.0"/><circle cx="1427.1" cy="529.8" r="5.0"/><circle cx="1430.2" cy="529.9" r="5.0"/><circle cx="1442.1" cy="529.3" r="5.0"/><circle cx="1447.1" cy="530" r="5.0"/><circle cx="1451.5" cy="530.2" r="5.0"/><circle cx="1455.1" cy="529.4" r="5.0"/><circle cx="1419.6" cy="534.5" r="5.0"/><circle cx="1423.3" cy="534.2" r="5.0"/><circle cx="1427.4" cy="534.4" r="5.0"/><circle cx="1432.4" cy="534" r="5.0"/><circle cx="1436.8" cy="534.5" r="5.0"/><circle cx="1440.4" cy="535.1" r="5.0"/><circle cx="1444.9" cy="534.4" r="5.0"/><circle cx="1449.1" cy="535" r="5.0"/><circle cx="1452.7" cy="535.3" r="5.0"/><circle cx="1457.6" cy="534" r="5.0"/><circle cx="1467.9" cy="534.7" r="5.0"/><circle cx="1402.5" cy="539.7" r="5.0"/><circle cx="1413.4" cy="540" r="5.0"/><circle cx="1417.8" cy="539" r="5.0"/><circle cx="1421.6" cy="539.5" r="5.0"/><circle cx="1425.2" cy="539" r="5.0"/><circle cx="1428.2" cy="539.2" r="5.0"/><circle cx="1433.6" cy="539.2" r="5.0"/><circle cx="1437.1" cy="540.3" r="5.0"/><circle cx="1441.3" cy="539.5" r="5.0"/><circle cx="1444.3" cy="539.7" r="5.0"/><circle cx="1448.8" cy="539.1" r="5.0"/><circle cx="1452.7" cy="540.1" r="5.0"/><circle cx="1456.8" cy="539" r="5.0"/><circle cx="1460.1" cy="540.3" r="5.0"/><circle cx="1468.5" cy="539.7" r="5.0"/><circle cx="1408.4" cy="544.1" r="5.0"/><circle cx="1412" cy="544.8" r="5.0"/><circle cx="1416.7" cy="544.4" r="5.0"/><circle cx="1420.6" cy="544.7" r="5.0"/><circle cx="1423.4" cy="544.4" r="5.0"/><circle cx="1427.1" cy="544.1" r="5.0"/><circle cx="1431.4" cy="544.2" r="5.0"/><circle cx="1444.5" cy="544.9" r="5.0"/><circle cx="1449.7" cy="544.2" r="5.0"/><circle cx="1452.5" cy="545.3" r="5.0"/><circle cx="1457.6" cy="544.7" r="5.0"/><circle cx="1479.7" cy="544.7" r="5.0"/><circle cx="1405.9" cy="549.5" r="5.0"/><circle cx="1409.3" cy="549.8" r="5.0"/><circle cx="1414.1" cy="549.6" r="5.0"/><circle cx="1417.3" cy="549" r="5.0"/><circle cx="1421.9" cy="549" r="5.0"/><circle cx="1425.1" cy="550.1" r="5.0"/><circle cx="1428.9" cy="549.1" r="5.0"/><circle cx="1445.8" cy="550" r="5.0"/><circle cx="1450.1" cy="549.8" r="5.0"/><circle cx="1453.4" cy="549.1" r="5.0"/><circle cx="1456.4" cy="549.2" r="5.0"/><circle cx="1460.1" cy="550.1" r="5.0"/><circle cx="1471" cy="549.6" r="5.0"/><circle cx="1404.7" cy="554.3" r="5.0"/><circle cx="1410.2" cy="554.6" r="5.0"/><circle cx="1420.9" cy="555.3" r="5.0"/><circle cx="1425.4" cy="555.3" r="5.0"/><circle cx="1428.7" cy="554.6" r="5.0"/><circle cx="1433.1" cy="554.6" r="5.0"/><circle cx="1436.3" cy="554.5" r="5.0"/><circle cx="1440" cy="554.5" r="5.0"/><circle cx="1445.3" cy="555.3" r="5.0"/><circle cx="1448.7" cy="554.6" r="5.0"/><circle cx="1452.2" cy="554.1" r="5.0"/><circle cx="1456" cy="555" r="5.0"/><circle cx="1460.9" cy="554.4" r="5.0"/><circle cx="1464.7" cy="555" r="5.0"/><circle cx="1468.5" cy="554.9" r="5.0"/><circle cx="1472.6" cy="554.4" r="5.0"/><circle cx="1476.4" cy="554.3" r="5.0"/><circle cx="1480" cy="554.6" r="5.0"/><circle cx="1404.7" cy="560" r="5.0"/><circle cx="1408.9" cy="559.3" r="5.0"/><circle cx="1413.2" cy="559.8" r="5.0"/><circle cx="1416.6" cy="558.9" r="5.0"/><circle cx="1420.5" cy="559.3" r="5.0"/><circle cx="1424.6" cy="559.6" r="5.0"/><circle cx="1428.8" cy="559.8" r="5.0"/><circle cx="1432.7" cy="559.4" r="5.0"/><circle cx="1436.3" cy="559.9" r="5.0"/><circle cx="1440.6" cy="559.4" r="5.0"/><circle cx="1444.5" cy="560.1" r="5.0"/><circle cx="1448.2" cy="560.3" r="5.0"/><circle cx="1452.6" cy="559.6" r="5.0"/><circle cx="1455.8" cy="559.1" r="5.0"/><circle cx="1460.2" cy="560.2" r="5.0"/><circle cx="1463.6" cy="559.9" r="5.0"/><circle cx="1467.6" cy="559.9" r="5.0"/><circle cx="1479.5" cy="559.9" r="5.0"/><circle cx="1482.5" cy="559.2" r="5.0"/><circle cx="1405.9" cy="565" r="5.0"/><circle cx="1410" cy="564.8" r="5.0"/><circle cx="1413.8" cy="564.8" r="5.0"/><circle cx="1418.4" cy="564.8" r="5.0"/><circle cx="1422.3" cy="563.9" r="5.0"/><circle cx="1425.4" cy="564.5" r="5.0"/><circle cx="1430.2" cy="564.2" r="5.0"/><circle cx="1434.3" cy="564.8" r="5.0"/><circle cx="1437.2" cy="564.6" r="5.0"/><circle cx="1441.6" cy="564" r="5.0"/><circle cx="1445.4" cy="564.3" r="5.0"/><circle cx="1449.5" cy="564.2" r="5.0"/><circle cx="1453.3" cy="564.6" r="5.0"/><circle cx="1457.8" cy="564.8" r="5.0"/><circle cx="1462.2" cy="564.2" r="5.0"/><circle cx="1466.7" cy="563.9" r="5.0"/><circle cx="1470.1" cy="564.5" r="5.0"/><circle cx="1482.9" cy="564.6" r="5.0"/><circle cx="1405.9" cy="569.3" r="5.0"/><circle cx="1409.9" cy="569" r="5.0"/><circle cx="1414.6" cy="569.4" r="5.0"/><circle cx="1417.5" cy="569.7" r="5.0"/><circle cx="1421.7" cy="569.7" r="5.0"/><circle cx="1426.1" cy="569.7" r="5.0"/><circle cx="1431.2" cy="570" r="5.0"/><circle cx="1434.5" cy="570" r="5.0"/><circle cx="1438.9" cy="569.4" r="5.0"/><circle cx="1442.2" cy="569.7" r="5.0"/><circle cx="1447" cy="570.2" r="5.0"/><circle cx="1451.7" cy="569.7" r="5.0"/><circle cx="1455.1" cy="569.4" r="5.0"/><circle cx="1467" cy="570.1" r="5.0"/><circle cx="1470.1" cy="568.9" r="5.0"/><circle cx="1486.9" cy="569" r="5.0"/><circle cx="1488.8" cy="569.7" r="5.0"/><circle cx="1405.9" cy="574.7" r="5.0"/><circle cx="1409.5" cy="574.8" r="5.0"/><circle cx="1414.9" cy="574.4" r="5.0"/><circle cx="1418.3" cy="574.2" r="5.0"/><circle cx="1422.3" cy="575.2" r="5.0"/><circle cx="1426.6" cy="575.2" r="5.0"/><circle cx="1431.6" cy="574.7" r="5.0"/><circle cx="1434.7" cy="575.2" r="5.0"/><circle cx="1439.3" cy="574.5" r="5.0"/><circle cx="1443.2" cy="575.3" r="5.0"/><circle cx="1447.6" cy="574.6" r="5.0"/><circle cx="1477.2" cy="574.6" r="5.0"/><circle cx="1487.2" cy="574.6" r="5.0"/><circle cx="1405.9" cy="579.3" r="5.0"/><circle cx="1409.8" cy="579" r="5.0"/><circle cx="1414.1" cy="579.5" r="5.0"/><circle cx="1417.5" cy="580" r="5.0"/><circle cx="1422.3" cy="578.9" r="5.0"/><circle cx="1425.8" cy="579.2" r="5.0"/><circle cx="1430.5" cy="580" r="5.0"/><circle cx="1433.3" cy="579.2" r="5.0"/><circle cx="1437.2" cy="580.2" r="5.0"/><circle cx="1441.4" cy="579.7" r="5.0"/><circle cx="1445.6" cy="579.8" r="5.0"/><circle cx="1449.8" cy="579.9" r="5.0"/><circle cx="1453" cy="579.9" r="5.0"/><circle cx="1457.6" cy="579.3" r="5.0"/><circle cx="1477.2" cy="579.6" r="5.0"/><circle cx="1487.8" cy="579.6" r="5.0"/><circle cx="1404.7" cy="584.6" r="5.0"/><circle cx="1408.5" cy="584.3" r="5.0"/><circle cx="1413" cy="584.5" r="5.0"/><circle cx="1416.8" cy="584.9" r="5.0"/><circle cx="1421.4" cy="583.9" r="5.0"/><circle cx="1424.9" cy="584.5" r="5.0"/><circle cx="1430.1" cy="585.1" r="5.0"/><circle cx="1433.7" cy="583.9" r="5.0"/><circle cx="1438.2" cy="584.4" r="5.0"/><circle cx="1442" cy="584.8" r="5.0"/><circle cx="1446.2" cy="584.5" r="5.0"/><circle cx="1450.8" cy="584.4" r="5.0"/><circle cx="1454.1" cy="585" r="5.0"/><circle cx="1458" cy="584.3" r="5.0"/><circle cx="1462.6" cy="585" r="5.0"/><circle cx="1402.2" cy="588.9" r="5.0"/><circle cx="1406.6" cy="589.8" r="5.0"/><circle cx="1409.9" cy="589.2" r="5.0"/><circle cx="1414.3" cy="590.1" r="5.0"/><circle cx="1417.2" cy="589.5" r="5.0"/><circle cx="1421.8" cy="589.5" r="5.0"/><circle cx="1425.4" cy="589" r="5.0"/><circle cx="1429.7" cy="590" r="5.0"/><circle cx="1432.8" cy="589.2" r="5.0"/><circle cx="1437.9" cy="589.9" r="5.0"/><circle cx="1441.5" cy="588.9" r="5.0"/><circle cx="1445.5" cy="590.2" r="5.0"/><circle cx="1449.9" cy="589.8" r="5.0"/><circle cx="1452.3" cy="590" r="5.0"/><circle cx="1456.5" cy="589.7" r="5.0"/><circle cx="1461.5" cy="589.8" r="5.0"/><circle cx="1464.1" cy="589.2" r="5.0"/><circle cx="1469.3" cy="589" r="5.0"/><circle cx="1472.5" cy="589.7" r="5.0"/><circle cx="1404.7" cy="594.4" r="5.0"/><circle cx="1408.2" cy="594.7" r="5.0"/><circle cx="1412" cy="594" r="5.0"/><circle cx="1416.6" cy="593.9" r="5.0"/><circle cx="1420.1" cy="594.6" r="5.0"/><circle cx="1425.3" cy="595" r="5.0"/><circle cx="1428.4" cy="594.4" r="5.0"/><circle cx="1432.7" cy="594.7" r="5.0"/><circle cx="1437" cy="595.1" r="5.0"/><circle cx="1440.9" cy="593.9" r="5.0"/><circle cx="1445.1" cy="594.8" r="5.0"/><circle cx="1464.5" cy="594" r="5.0"/><circle cx="1468.7" cy="594.5" r="5.0"/><circle cx="1472.5" cy="595.1" r="5.0"/><circle cx="1484.1" cy="594.5" r="5.0"/><circle cx="1405.9" cy="599.6" r="5.0"/><circle cx="1410.2" cy="599.2" r="5.0"/><circle cx="1414.2" cy="599.2" r="5.0"/><circle cx="1418.6" cy="599.5" r="5.0"/><circle cx="1421.7" cy="599.1" r="5.0"/><circle cx="1426.2" cy="599.8" r="5.0"/><circle cx="1430" cy="599.8" r="5.0"/><circle cx="1434.8" cy="598.9" r="5.0"/><circle cx="1439" cy="598.9" r="5.0"/><circle cx="1442.2" cy="599.6" r="5.0"/><circle cx="1446.5" cy="600" r="5.0"/><circle cx="1451" cy="599.3" r="5.0"/><circle cx="1455.1" cy="599.9" r="5.0"/><circle cx="1465.7" cy="598.8" r="5.0"/><circle cx="1469.5" cy="598.9" r="5.0"/><circle cx="1472.5" cy="599" r="5.0"/><circle cx="1484.1" cy="599.5" r="5.0"/><circle cx="1405.9" cy="605.1" r="5.0"/><circle cx="1410.3" cy="604.1" r="5.0"/><circle cx="1413.5" cy="605.2" r="5.0"/><circle cx="1418.5" cy="604.9" r="5.0"/><circle cx="1421.7" cy="604.7" r="5.0"/><circle cx="1426.2" cy="604.1" r="5.0"/><circle cx="1430.2" cy="604.7" r="5.0"/><circle cx="1434.4" cy="604.3" r="5.0"/><circle cx="1438.1" cy="605" r="5.0"/><circle cx="1443" cy="604.9" r="5.0"/><circle cx="1446.8" cy="605" r="5.0"/><circle cx="1451" cy="604.6" r="5.0"/><circle cx="1455.1" cy="604.6" r="5.0"/><circle cx="1581.9" cy="403" r="5.0"/><circle cx="1680.8" cy="65" r="5.0"/><circle cx="1680.8" cy="223.6" r="5.0"/><circle cx="1680.8" cy="236.3" r="5.0"/><circle cx="1680.8" cy="239.8" r="5.0"/><circle cx="1680.8" cy="256.4" r="5.0"/><circle cx="1680.8" cy="270" r="5.0"/><circle cx="1680.8" cy="274.6" r="5.0"/><circle cx="1680.8" cy="279.2" r="5.0"/><circle cx="1680.8" cy="283.8" r="5.0"/><circle cx="1680.8" cy="288.4" r="5.0"/><circle cx="1680.8" cy="293" r="5.0"/><circle cx="1680.8" cy="297.6" r="5.0"/><circle cx="1680.8" cy="302.2" r="5.0"/><circle cx="1680.8" cy="306.8" r="5.0"/><circle cx="1680.8" cy="311.4" r="5.0"/><circle cx="1680.8" cy="316" r="5.0"/><circle cx="1680.8" cy="320.6" r="5.0"/><circle cx="1680.8" cy="325.2" r="5.0"/><circle cx="1680.8" cy="329.8" r="5.0"/><circle cx="1680.8" cy="334.4" r="5.0"/><circle cx="1680.8" cy="339" r="5.0"/><circle cx="1680.8" cy="343.6" r="5.0"/><circle cx="1680.8" cy="348.2" r="5.0"/><circle cx="1680.8" cy="352.8" r="5.0"/><circle cx="1680.8" cy="357.4" r="5.0"/><circle cx="1680.8" cy="362" r="5.0"/><circle cx="1680.8" cy="366.6" r="5.0"/><circle cx="1680.8" cy="371.2" r="5.0"/><circle cx="1680.8" cy="375.8" r="5.0"/><circle cx="1680.8" cy="380.4" r="5.0"/><circle cx="1680.8" cy="385" r="5.0"/><circle cx="1680.8" cy="389.6" r="5.0"/><circle cx="1680.8" cy="394.2" r="5.0"/><circle cx="1680.8" cy="398.8" r="5.0"/><circle cx="1680.8" cy="403.4" r="5.0"/><circle cx="1680.8" cy="408" r="5.0"/><circle cx="1680.8" cy="412.6" r="5.0"/><circle cx="1680.8" cy="417.2" r="5.0"/><circle cx="1680.8" cy="421.8" r="5.0"/><circle cx="1680.8" cy="426.4" r="5.0"/><circle cx="1680.8" cy="431" r="5.0"/><circle cx="1680.8" cy="435.6" r="5.0"/><circle cx="1680.8" cy="440.2" r="5.0"/><circle cx="1680.8" cy="444.8" r="5.0"/><circle cx="1680.8" cy="449.4" r="5.0"/><circle cx="1680.8" cy="454" r="5.0"/><circle cx="1680.8" cy="458.6" r="5.0"/><circle cx="1680.8" cy="463.2" r="5.0"/><circle cx="1680.8" cy="467.8" r="5.0"/><circle cx="1680.8" cy="472.4" r="5.0"/><circle cx="1680.8" cy="477" r="5.0"/><circle cx="1680.8" cy="481.6" r="5.0"/><circle cx="1680.8" cy="486.2" r="5.0"/><circle cx="1680.8" cy="490.8" r="5.0"/><circle cx="1680.8" cy="495.4" r="5.0"/><circle cx="1680.8" cy="500" r="5.0"/><circle cx="1680.8" cy="504.6" r="5.0"/><circle cx="1680.8" cy="509.2" r="5.0"/><circle cx="1680.8" cy="513.8" r="5.0"/><circle cx="1680.8" cy="518.4" r="5.0"/><circle cx="1680.8" cy="523" r="5.0"/><circle cx="1680.8" cy="527.6" r="5.0"/><circle cx="1680.8" cy="532.2" r="5.0"/><circle cx="1680.8" cy="536.8" r="5.0"/><circle cx="1680.8" cy="569" r="5.0"/><circle cx="1680.8" cy="572.5" r="5.0"/></g>
<defs><g id="g2"><circle cx="1337.1" cy="607.6" r="3.9"/><circle cx="1340.6" cy="608.1" r="3.9"/><circle cx="1344.5" cy="607.9" r="3.9"/><circle cx="1349.1" cy="607.2" r="3.9"/><circle cx="1353.4" cy="607.2" r="3.9"/><circle cx="1357.4" cy="607.3" r="3.9"/><circle cx="1360.9" cy="607.8" r="3.9"/><circle cx="1366.2" cy="607.3" r="3.9"/><circle cx="1369.3" cy="608" r="3.9"/><circle cx="1374.5" cy="608" r="3.9"/><circle cx="1377.9" cy="607.7" r="3.9"/><circle cx="1404.8" cy="608.5" r="3.9"/><circle cx="1408.1" cy="608.4" r="3.9"/><circle cx="1412.6" cy="607.4" r="3.9"/><circle cx="1416.4" cy="607.6" r="3.9"/><circle cx="1421.6" cy="607.4" r="3.9"/><circle cx="1425.3" cy="608.1" r="3.9"/><circle cx="1429.1" cy="607.9" r="3.9"/><circle cx="1432.7" cy="607.3" r="3.9"/><circle cx="1437" cy="608.1" r="3.9"/><circle cx="1441.4" cy="607.6" r="3.9"/><circle cx="1445.8" cy="607.8" r="3.9"/><circle cx="1449.4" cy="608.3" r="3.9"/><circle cx="1454.1" cy="607.5" r="3.9"/><circle cx="1458" cy="607.9" r="3.9"/><circle cx="1462.6" cy="608.2" r="3.9"/><circle cx="1465.7" cy="608.5" r="3.9"/><circle cx="1469.5" cy="607.8" r="3.9"/><circle cx="1474.2" cy="608.2" r="3.9"/><circle cx="1299.9" cy="613" r="3.9"/><circle cx="1336.4" cy="612.5" r="3.9"/><circle cx="1340.2" cy="612.4" r="3.9"/><circle cx="1344.4" cy="613.4" r="3.9"/><circle cx="1348.2" cy="613.6" r="3.9"/><circle cx="1351.7" cy="613.3" r="3.9"/><circle cx="1356" cy="613.1" r="3.9"/><circle cx="1359.7" cy="613.5" r="3.9"/><circle cx="1364.4" cy="613" r="3.9"/><circle cx="1367.9" cy="612.4" r="3.9"/><circle cx="1371.8" cy="613.2" r="3.9"/><circle cx="1376.2" cy="613.5" r="3.9"/><circle cx="1379.3" cy="612.7" r="3.9"/><circle cx="1404.8" cy="612.9" r="3.9"/><circle cx="1408.9" cy="612.4" r="3.9"/><circle cx="1412.5" cy="612.6" r="3.9"/><circle cx="1415.9" cy="612.4" r="3.9"/><circle cx="1420.9" cy="612.5" r="3.9"/><circle cx="1424" cy="612.9" r="3.9"/><circle cx="1428.9" cy="612.4" r="3.9"/><circle cx="1432.1" cy="613.1" r="3.9"/><circle cx="1436.7" cy="613.5" r="3.9"/><circle cx="1440.6" cy="612.7" r="3.9"/><circle cx="1443.8" cy="612.8" r="3.9"/><circle cx="1448.5" cy="613.7" r="3.9"/><circle cx="1451.3" cy="612.6" r="3.9"/><circle cx="1455.3" cy="612.7" r="3.9"/><circle cx="1459.6" cy="613.2" r="3.9"/><circle cx="1463.2" cy="612.3" r="3.9"/><circle cx="1467.4" cy="612.8" r="3.9"/><circle cx="1471.4" cy="613.1" r="3.9"/><circle cx="1270.9" cy="618.6" r="3.9"/><circle cx="1282.4" cy="618.6" r="3.9"/><circle cx="1299.2" cy="618.6" r="3.9"/><circle cx="1332.4" cy="618.6" r="3.9"/><circle cx="1344" cy="619.2" r="3.9"/><circle cx="1348.3" cy="618.6" r="3.9"/><circle cx="1352.1" cy="618.9" r="3.9"/><circle cx="1355.2" cy="619.2" r="3.9"/><circle cx="1360.3" cy="619.1" r="3.9"/><circle cx="1364.2" cy="618.5" r="3.9"/><circle cx="1367.5" cy="618.1" r="3.9"/><circle cx="1371.9" cy="618" r="3.9"/><circle cx="1374.9" cy="618.2" r="3.9"/><circle cx="1379" cy="618.4" r="3.9"/><circle cx="1383.5" cy="618" r="3.9"/><circle cx="1397.3" cy="618.6" r="3.9"/><circle cx="1404.8" cy="617.9" r="3.9"/><circle cx="1408.3" cy="618.1" r="3.9"/><circle cx="1412.6" cy="618" r="3.9"/><circle cx="1417.5" cy="618.8" r="3.9"/><circle cx="1420.4" cy="618.3" r="3.9"/><circle cx="1424.8" cy="618.4" r="3.9"/><circle cx="1428.5" cy="619.1" r="3.9"/><circle cx="1433.9" cy="618.6" r="3.9"/><circle cx="1437.2" cy="618" r="3.9"/><circle cx="1440.6" cy="618.4" r="3.9"/><circle cx="1444.9" cy="619.1" r="3.9"/><circle cx="1448.8" cy="617.9" r="3.9"/><circle cx="1454.1" cy="618.7" r="3.9"/><circle cx="1457.5" cy="618.1" r="3.9"/><circle cx="1482.4" cy="618.6" r="3.9"/><circle cx="1271.6" cy="624.2" r="3.9"/><circle cx="1331.3" cy="624.2" r="3.9"/><circle cx="1344" cy="624.3" r="3.9"/><circle cx="1347.2" cy="624.2" r="3.9"/><circle cx="1352.6" cy="624.7" r="3.9"/><circle cx="1356.1" cy="623.9" r="3.9"/><circle cx="1359.5" cy="623.7" r="3.9"/><circle cx="1364.1" cy="624.2" r="3.9"/><circle cx="1368" cy="624" r="3.9"/><circle cx="1371" cy="624.6" r="3.9"/><circle cx="1376.2" cy="624.7" r="3.9"/><circle cx="1379.3" cy="624.6" r="3.9"/><circle cx="1404.8" cy="624.6" r="3.9"/><circle cx="1409.1" cy="623.8" r="3.9"/><circle cx="1412.7" cy="624" r="3.9"/><circle cx="1415.8" cy="623.5" r="3.9"/><circle cx="1420.2" cy="623.9" r="3.9"/><circle cx="1424.8" cy="624.8" r="3.9"/><circle cx="1428.4" cy="624.8" r="3.9"/><circle cx="1433.2" cy="624.8" r="3.9"/><circle cx="1436.1" cy="623.8" r="3.9"/><circle cx="1439.8" cy="623.8" r="3.9"/><circle cx="1443.8" cy="624.4" r="3.9"/><circle cx="1448.8" cy="624.7" r="3.9"/><circle cx="1452.1" cy="624.4" r="3.9"/><circle cx="1456.1" cy="624.6" r="3.9"/><circle cx="1278.3" cy="630.5" r="3.9"/><circle cx="1294.7" cy="630.5" r="3.9"/><circle cx="1330.8" cy="629.9" r="3.9"/><circle cx="1335.1" cy="631.1" r="3.9"/><circle cx="1339.3" cy="630.8" r="3.9"/><circle cx="1342.9" cy="630" r="3.9"/><circle cx="1347.4" cy="630.2" r="3.9"/><circle cx="1351.5" cy="631.1" r="3.9"/><circle cx="1354.9" cy="630.3" r="3.9"/><circle cx="1359.8" cy="630.8" r="3.9"/><circle cx="1362.6" cy="630" r="3.9"/><circle cx="1366.6" cy="631" r="3.9"/><circle cx="1371.7" cy="630" r="3.9"/><circle cx="1375.8" cy="631.2" r="3.9"/><circle cx="1379.3" cy="630.7" r="3.9"/><circle cx="1388.2" cy="630.5" r="3.9"/><circle cx="1404.8" cy="630.3" r="3.9"/><circle cx="1408.8" cy="630" r="3.9"/><circle cx="1411.9" cy="631.1" r="3.9"/><circle cx="1416.8" cy="630.5" r="3.9"/><circle cx="1421.2" cy="630.4" r="3.9"/><circle cx="1425.1" cy="630.9" r="3.9"/><circle cx="1427.9" cy="630.1" r="3.9"/><circle cx="1432.3" cy="630.2" r="3.9"/><circle cx="1445.9" cy="630.1" r="3.9"/><circle cx="1450.5" cy="630.6" r="3.9"/><circle cx="1330.1" cy="635.7" r="3.9"/><circle cx="1334" cy="635.5" r="3.9"/><circle cx="1338.9" cy="635.9" r="3.9"/><circle cx="1342.3" cy="636.2" r="3.9"/><circle cx="1347.1" cy="636" r="3.9"/><circle cx="1351.3" cy="636.1" r="3.9"/><circle cx="1354.7" cy="636.1" r="3.9"/><circle cx="1358" cy="636" r="3.9"/><circle cx="1362.4" cy="635.4" r="3.9"/><circle cx="1367.5" cy="635.6" r="3.9"/><circle cx="1371.1" cy="636.4" r="3.9"/><circle cx="1375.3" cy="635.8" r="3.9"/><circle cx="1379.3" cy="636.1" r="3.9"/><circle cx="1387.8" cy="636.1" r="3.9"/><circle cx="1399.9" cy="636.1" r="3.9"/><circle cx="1404.4" cy="635.5" r="3.9"/><circle cx="1408.1" cy="635.7" r="3.9"/><circle cx="1411.7" cy="636.4" r="3.9"/><circle cx="1416.1" cy="636.2" r="3.9"/><circle cx="1420.6" cy="636.6" r="3.9"/><circle cx="1424.1" cy="636.2" r="3.9"/><circle cx="1428.3" cy="636.1" r="3.9"/><circle cx="1432.3" cy="636.3" r="3.9"/><circle cx="1447.3" cy="636" r="3.9"/><circle cx="1451.1" cy="636" r="3.9"/><circle cx="1454.7" cy="636.7" r="3.9"/><circle cx="1331" cy="641.6" r="3.9"/><circle cx="1349.6" cy="641.9" r="3.9"/><circle cx="1354.3" cy="642.3" r="3.9"/><circle cx="1357.4" cy="641.7" r="3.9"/><circle cx="1362.5" cy="642.1" r="3.9"/><circle cx="1365.3" cy="641.1" r="3.9"/><circle cx="1369.8" cy="641" r="3.9"/><circle cx="1373.6" cy="641" r="3.9"/><circle cx="1378.3" cy="642" r="3.9"/><circle cx="1382.1" cy="642.2" r="3.9"/><circle cx="1398.5" cy="641.2" r="3.9"/><circle cx="1402.9" cy="641.9" r="3.9"/><circle cx="1406" cy="642.2" r="3.9"/><circle cx="1411.4" cy="641.3" r="3.9"/><circle cx="1415.4" cy="641.5" r="3.9"/><circle cx="1418.8" cy="642.3" r="3.9"/><circle cx="1423.4" cy="641.2" r="3.9"/><circle cx="1426.8" cy="641.7" r="3.9"/><circle cx="1431" cy="641.4" r="3.9"/><circle cx="1450.3" cy="641.6" r="3.9"/><circle cx="1317.3" cy="647.2" r="3.9"/><circle cx="1345.4" cy="646.8" r="3.9"/><circle cx="1348.9" cy="647.5" r="3.9"/><circle cx="1352.3" cy="647.3" r="3.9"/><circle cx="1356.8" cy="646.6" r="3.9"/><circle cx="1360.4" cy="647.4" r="3.9"/><circle cx="1364.5" cy="646.6" r="3.9"/><circle cx="1369" cy="647.6" r="3.9"/><circle cx="1372.8" cy="646.7" r="3.9"/><circle cx="1375.5" cy="646.6" r="3.9"/><circle cx="1380.1" cy="646.9" r="3.9"/><circle cx="1383.5" cy="646.7" r="3.9"/><circle cx="1397.8" cy="647.1" r="3.9"/><circle cx="1402.6" cy="647.7" r="3.9"/><circle cx="1405.7" cy="646.7" r="3.9"/><circle cx="1410.9" cy="647.3" r="3.9"/><circle cx="1414.7" cy="646.7" r="3.9"/><circle cx="1417.8" cy="647.5" r="3.9"/><circle cx="1422.5" cy="646.6" r="3.9"/><circle cx="1426.8" cy="647.8" r="3.9"/><circle cx="1448.7" cy="647.4" r="3.9"/><circle cx="1452.6" cy="646.6" r="3.9"/><circle cx="1456.1" cy="646.6" r="3.9"/><circle cx="1458.9" cy="647.7" r="3.9"/><circle cx="1331.8" cy="652.8" r="3.9"/><circle cx="1344" cy="652.7" r="3.9"/><circle cx="1347.9" cy="652.9" r="3.9"/><circle cx="1352.9" cy="652.5" r="3.9"/><circle cx="1355.7" cy="652.9" r="3.9"/><circle cx="1360" cy="652.3" r="3.9"/><circle cx="1363.9" cy="652.2" r="3.9"/><circle cx="1368.1" cy="652.6" r="3.9"/><circle cx="1372.3" cy="653.2" r="3.9"/><circle cx="1376.4" cy="652.8" r="3.9"/><circle cx="1380.3" cy="652.6" r="3.9"/><circle cx="1384.9" cy="652.1" r="3.9"/><circle cx="1397.1" cy="652.5" r="3.9"/><circle cx="1400.2" cy="653.1" r="3.9"/><circle cx="1405" cy="652.4" r="3.9"/><circle cx="1408.8" cy="653.4" r="3.9"/><circle cx="1412.1" cy="653.3" r="3.9"/><circle cx="1416.6" cy="652.8" r="3.9"/><circle cx="1421.1" cy="652.7" r="3.9"/><circle cx="1424.5" cy="653.1" r="3.9"/><circle cx="1429.2" cy="652.6" r="3.9"/><circle cx="1432.3" cy="653.3" r="3.9"/><circle cx="1352.4" cy="658.7" r="3.9"/><circle cx="1356.6" cy="658.3" r="3.9"/><circle cx="1360" cy="657.8" r="3.9"/><circle cx="1363.6" cy="657.8" r="3.9"/><circle cx="1368.5" cy="658.1" r="3.9"/><circle cx="1371.5" cy="657.8" r="3.9"/><circle cx="1376.5" cy="658.9" r="3.9"/><circle cx="1380.2" cy="658.1" r="3.9"/><circle cx="1383.4" cy="658.1" r="3.9"/><circle cx="1387.7" cy="657.9" r="3.9"/><circle cx="1391.6" cy="658.1" r="3.9"/><circle cx="1396.3" cy="659.1" r="3.9"/><circle cx="1399.6" cy="658" r="3.9"/><circle cx="1404.2" cy="658.1" r="3.9"/><circle cx="1407.2" cy="657.7" r="3.9"/><circle cx="1411.1" cy="658.4" r="3.9"/><circle cx="1415.2" cy="658" r="3.9"/><circle cx="1419.2" cy="657.7" r="3.9"/><circle cx="1422.7" cy="657.8" r="3.9"/><circle cx="1426.9" cy="657.8" r="3.9"/><circle cx="1431" cy="657.7" r="3.9"/><circle cx="1358" cy="663.7" r="3.9"/><circle cx="1361.6" cy="664.1" r="3.9"/><circle cx="1366.1" cy="664.3" r="3.9"/><circle cx="1370.4" cy="664.3" r="3.9"/><circle cx="1374.8" cy="663.8" r="3.9"/><circle cx="1377.9" cy="664.7" r="3.9"/><circle cx="1381.7" cy="664.3" r="3.9"/><circle cx="1386.5" cy="663.3" r="3.9"/><circle cx="1390.9" cy="664.5" r="3.9"/><circle cx="1394.6" cy="664.3" r="3.9"/><circle cx="1398.9" cy="663.5" r="3.9"/><circle cx="1402.5" cy="664" r="3.9"/><circle cx="1407.1" cy="664.4" r="3.9"/><circle cx="1411.1" cy="664.1" r="3.9"/><circle cx="1415.3" cy="664.2" r="3.9"/><circle cx="1419" cy="663.6" r="3.9"/><circle cx="1422" cy="663.5" r="3.9"/><circle cx="1426.8" cy="663.8" r="3.9"/><circle cx="1438.8" cy="664" r="3.9"/><circle cx="1363.6" cy="669" r="3.9"/><circle cx="1368" cy="669.6" r="3.9"/><circle cx="1371.6" cy="669.7" r="3.9"/><circle cx="1375.6" cy="669.5" r="3.9"/><circle cx="1378.4" cy="670" r="3.9"/><circle cx="1383.5" cy="669.6" r="3.9"/><circle cx="1387.1" cy="669.8" r="3.9"/><circle cx="1390.3" cy="669.9" r="3.9"/><circle cx="1394.5" cy="669" r="3.9"/><circle cx="1398.4" cy="669.9" r="3.9"/><circle cx="1402.3" cy="669.9" r="3.9"/><circle cx="1407.4" cy="669.6" r="3.9"/><circle cx="1410.4" cy="669.5" r="3.9"/><circle cx="1414.8" cy="669.9" r="3.9"/><circle cx="1418.4" cy="669.7" r="3.9"/><circle cx="1439.5" cy="669.6" r="3.9"/><circle cx="1365" cy="675.3" r="3.9"/><circle cx="1368.1" cy="674.7" r="3.9"/><circle cx="1372.2" cy="675.5" r="3.9"/><circle cx="1376.1" cy="675.2" r="3.9"/><circle cx="1379.4" cy="674.5" r="3.9"/><circle cx="1383.6" cy="675.4" r="3.9"/><circle cx="1388.1" cy="675.4" r="3.9"/><circle cx="1391.3" cy="675.2" r="3.9"/><circle cx="1395.4" cy="675.1" r="3.9"/><circle cx="1398.6" cy="675.7" r="3.9"/><circle cx="1403" cy="674.7" r="3.9"/><circle cx="1420.3" cy="675.1" r="3.9"/><circle cx="1378.9" cy="681.4" r="3.9"/><circle cx="1383.3" cy="680.1" r="3.9"/><circle cx="1386.3" cy="681.2" r="3.9"/><circle cx="1390.8" cy="680.7" r="3.9"/><circle cx="1393.4" cy="680.3" r="3.9"/><circle cx="1397.4" cy="681.4" r="3.9"/><circle cx="1388.7" cy="685.2" r="3.9"/><circle cx="1391.9" cy="685.7" r="3.9"/></g></defs><use href="#g2" fill="#676767" stroke="#676767" stroke-width="2"/><use href="#g2" fill="#7d7d7d" stroke="#7d7d7d" stroke-width="0.3"/>
<g fill="#0000ff"><circle cx="1383.2" cy="406.5" r="5.0"/><circle cx="1308.3" cy="427.3" r="5.0"/><circle cx="1321.6" cy="452.1" r="5.0"/><circle cx="1341.7" cy="470.7" r="5.0"/><circle cx="1251.9" cy="485.8" r="5.0"/><circle cx="1333.3" cy="500.1" r="5.0"/><circle cx="1283.2" cy="513.3" r="5.0"/><circle cx="1331.2" cy="517.6" r="5.0"/><circle cx="1340.8" cy="523.6" r="5.0"/><circle cx="1350.8" cy="526.2" r="5.0"/><circle cx="1359.9" cy="524" r="5.0"/><circle cx="1364.2" cy="525.9" r="5.0"/><circle cx="1322.2" cy="528.3" r="5.0"/><circle cx="1269.6" cy="536.5" r="5.0"/><circle cx="1319.7" cy="536.9" r="5.0"/><circle cx="1338.4" cy="535.1" r="5.0"/><circle cx="1344.8" cy="539.8" r="5.0"/><circle cx="1340.5" cy="543.4" r="5.0"/><circle cx="1362" cy="538.4" r="5.0"/><circle cx="1360.3" cy="542.7" r="5.0"/><circle cx="1311.8" cy="548.8" r="5.0"/><circle cx="1309" cy="551.3" r="5.0"/><circle cx="1321.2" cy="549.8" r="5.0"/><circle cx="1353.8" cy="553.1" r="5.0"/><circle cx="1260.2" cy="557.3" r="5.0"/><circle cx="1320.4" cy="559.6" r="5.0"/><circle cx="1360.6" cy="559.2" r="5.0"/><circle cx="1301.8" cy="562.7" r="5.0"/><circle cx="1352.7" cy="564.2" r="5.0"/><circle cx="1354.9" cy="567" r="5.0"/><circle cx="1365.6" cy="563.5" r="5.0"/><circle cx="1370.9" cy="563.5" r="5.0"/><circle cx="1377.8" cy="566.3" r="5.0"/><circle cx="1273.4" cy="566" r="5.0"/><circle cx="1268.1" cy="573.2" r="5.0"/><circle cx="1296.1" cy="571.3" r="5.0"/><circle cx="1312.1" cy="573.5" r="5.0"/><circle cx="1339.8" cy="572.8" r="5.0"/><circle cx="1365.6" cy="574.9" r="5.0"/><circle cx="1375.6" cy="574.9" r="5.0"/><circle cx="1379.2" cy="569.2" r="5.0"/><circle cx="1258.5" cy="578.5" r="5.0"/><circle cx="1336.2" cy="579.2" r="5.0"/><circle cx="1348.4" cy="577.8" r="5.0"/><circle cx="1357" cy="577.8" r="5.0"/><circle cx="1362" cy="580.7" r="5.0"/><circle cx="1297.5" cy="582.5" r="5.0"/><circle cx="1271.7" cy="583.5" r="5.0"/><circle cx="1288.9" cy="584.7" r="5.0"/><circle cx="1207.2" cy="588.3" r="5.0"/><circle cx="1258.1" cy="588.3" r="5.0"/><circle cx="1277.7" cy="589.7" r="5.0"/><circle cx="1309" cy="587.5" r="5.0"/><circle cx="1292.5" cy="589.3" r="5.0"/><circle cx="1332.6" cy="585" r="5.0"/><circle cx="1367.8" cy="584.2" r="5.0"/><circle cx="1347.7" cy="586.4" r="5.0"/><circle cx="1353.4" cy="589.3" r="5.0"/><circle cx="1329" cy="592.1" r="5.0"/><circle cx="1346.2" cy="592.1" r="5.0"/><circle cx="1359.2" cy="589.3" r="5.0"/><circle cx="1364.9" cy="590.7" r="5.0"/><circle cx="1293.5" cy="597.9" r="5.0"/><circle cx="1328.3" cy="596.4" r="5.0"/><circle cx="1333.3" cy="597.9" r="5.0"/><circle cx="1344.1" cy="597.9" r="5.0"/><circle cx="1365.6" cy="596.4" r="5.0"/><circle cx="1253.5" cy="603.6" r="5.0"/><circle cx="1291.1" cy="603.6" r="5.0"/><circle cx="1313" cy="603.2" r="5.0"/><circle cx="1327.6" cy="603.6" r="5.0"/><circle cx="1336.2" cy="602.2" r="5.0"/><circle cx="1345.5" cy="602.2" r="5.0"/><circle cx="1359.2" cy="605" r="5.0"/><circle cx="1364.2" cy="604.3" r="5.0"/><circle cx="1375.6" cy="602.9" r="5.0"/><circle cx="1379.9" cy="602.2" r="5.0"/><circle cx="1360.6" cy="599.3" r="5.0"/><circle cx="1333.3" cy="590.7" r="5.0"/><circle cx="1349.8" cy="582.8" r="5.0"/><circle cx="1369.2" cy="590" r="5.0"/><circle cx="1347.7" cy="596.4" r="5.0"/><circle cx="1369.9" cy="579.2" r="5.0"/><circle cx="1101.9" cy="288.3" r="5.0"/><circle cx="1101.9" cy="307.4" r="5.0"/><circle cx="1101.9" cy="319" r="5.0"/><circle cx="1101.9" cy="342.6" r="5.0"/><circle cx="1101.9" cy="347.1" r="5.0"/><circle cx="1101.9" cy="363" r="5.0"/><circle cx="1101.9" cy="368" r="5.0"/><circle cx="1101.9" cy="372" r="5.0"/><circle cx="1101.9" cy="382.8" r="5.0"/><circle cx="1101.9" cy="394.7" r="5.0"/><circle cx="1101.9" cy="399.3" r="5.0"/><circle cx="1101.9" cy="404" r="5.0"/><circle cx="1101.9" cy="408.6" r="5.0"/><circle cx="1101.9" cy="413.2" r="5.0"/><circle cx="1101.9" cy="417.8" r="5.0"/><circle cx="1101.9" cy="422.5" r="5.0"/><circle cx="1101.9" cy="427.1" r="5.0"/><circle cx="1101.9" cy="431.7" r="5.0"/><circle cx="1101.9" cy="436.4" r="5.0"/><circle cx="1101.9" cy="441" r="5.0"/><circle cx="1101.9" cy="445.6" r="5.0"/><circle cx="1101.9" cy="450.3" r="5.0"/><circle cx="1101.9" cy="454.9" r="5.0"/><circle cx="1101.9" cy="459.5" r="5.0"/><circle cx="1101.9" cy="473" r="5.0"/><circle cx="1101.9" cy="477.6" r="5.0"/><circle cx="1101.9" cy="482.3" r="5.0"/><circle cx="1101.9" cy="486.9" r="5.0"/><circle cx="1101.9" cy="491.5" r="5.0"/><circle cx="1101.9" cy="496.1" r="5.0"/><circle cx="1101.9" cy="500.8" r="5.0"/><circle cx="1101.9" cy="505.4" r="5.0"/><circle cx="1101.9" cy="510" r="5.0"/><circle cx="1101.9" cy="524.7" r="5.0"/><circle cx="1101.9" cy="548.7" r="5.0"/></g>
<path d="M1383.15 717.3V33.7" stroke="#000" stroke-width="2" stroke-dasharray="7.4 3.2" fill="none"/>
<path d="M1398.85 717.3V33.7" stroke="#000" stroke-width="2" stroke-dasharray="7.4 3.2" fill="none"/>
<path d="M1099 606.22H1683.9" stroke="#000" stroke-width="2" stroke-dasharray="7.4 3.2" fill="none"/>
</g>
<text x="1295.6" y="114" font-size="20" text-anchor="start" font-family="'DejaVu Sans', sans-serif" stroke="#000" stroke-width="0.3" textLength="95" lengthAdjust="spacing" >FC=1/1.2</text>
<text x="1399" y="114" font-size="20" text-anchor="start" font-family="'DejaVu Sans', sans-serif" stroke="#000" stroke-width="0.3" textLength="76.6" lengthAdjust="spacing" >FC=1.2</text>
<text x="1551.9" y="628.4" font-size="20" text-anchor="start" font-family="'DejaVu Sans', sans-serif" stroke="#000" stroke-width="0.3" textLength="138" lengthAdjust="spacing" >P-value=0.05</text>
<rect x="1099" y="33.7" width="584.9" height="683.6" fill="none" stroke="#000" stroke-width="1.8"/>
<text x="1167.1" y="747.3" font-size="20" text-anchor="middle" font-family="'DejaVu Sans', sans-serif" stroke="#000" stroke-width="0.3" >−7.5</text>
<text x="1241.8" y="747.3" font-size="20" text-anchor="middle" font-family="'DejaVu Sans', sans-serif" stroke="#000" stroke-width="0.3" >−5.0</text>
<text x="1316.4" y="747.3" font-size="20" text-anchor="middle" font-family="'DejaVu Sans', sans-serif" stroke="#000" stroke-width="0.3" >−2.5</text>
<text x="1391" y="747.3" font-size="20" text-anchor="middle" font-family="'DejaVu Sans', sans-serif" stroke="#000" stroke-width="0.3" >0.0</text>
<text x="1465.6" y="747.3" font-size="20" text-anchor="middle" font-family="'DejaVu Sans', sans-serif" stroke="#000" stroke-width="0.3" >2.5</text>
<text x="1540.2" y="747.3" font-size="20" text-anchor="middle" font-family="'DejaVu Sans', sans-serif" stroke="#000" stroke-width="0.3" >5.0</text>
<text x="1614.9" y="747.3" font-size="20" text-anchor="middle" font-family="'DejaVu Sans', sans-serif" stroke="#000" stroke-width="0.3" >7.5</text>
<text x="1084.8" y="691" font-size="20" text-anchor="end" font-family="'DejaVu Sans', sans-serif" stroke="#000" stroke-width="0.3" >0</text>
<text x="1084.8" y="572.4" font-size="20" text-anchor="end" font-family="'DejaVu Sans', sans-serif" stroke="#000" stroke-width="0.3" >2</text>
<text x="1084.8" y="453.7" font-size="20" text-anchor="end" font-family="'DejaVu Sans', sans-serif" stroke="#000" stroke-width="0.3" >4</text>
<text x="1084.8" y="335.1" font-size="20" text-anchor="end" font-family="'DejaVu Sans', sans-serif" stroke="#000" stroke-width="0.3" >6</text>
<text x="1084.8" y="216.4" font-size="20" text-anchor="end" font-family="'DejaVu Sans', sans-serif" stroke="#000" stroke-width="0.3" >8</text>
<text x="1084.8" y="97.8" font-size="20" text-anchor="end" font-family="'DejaVu Sans', sans-serif" stroke="#000" stroke-width="0.3" >10</text>
<path d="M1167.12 717.3v7M1241.75 717.3v7M1316.38 717.3v7M1391 717.3v7M1465.62 717.3v7M1540.25 717.3v7M1614.88 717.3v7M1099 683.4h-7M1099 564.76h-7M1099 446.12h-7M1099 327.48h-7M1099 208.84h-7M1099 90.2h-7" stroke="#000" stroke-width="1.8" fill="none"/>
<text x="1391.5" y="21.6" font-size="24" text-anchor="middle" font-family="'DejaVu Sans', sans-serif" stroke="#000" stroke-width="0.3" textLength="150.5" lengthAdjust="spacing" >Volcano Plot</text>
<text x="1391.5" y="775.1" font-size="20" text-anchor="middle" font-family="'DejaVu Sans', sans-serif" stroke="#000" stroke-width="0.3" textLength="86.5" lengthAdjust="spacing" >log2(FC)</text>
<text transform="translate(1046.3 375.5) rotate(-90)" font-size="20" text-anchor="middle" font-family="'DejaVu Sans', sans-serif" stroke="#000" stroke-width="0.3" textLength="154" lengthAdjust="spacing">-log10(P-value)</text>
<rect x="1713.2" y="279.8" width="289" height="96" rx="4" ry="4" fill="#fff" stroke="#cccccc" stroke-width="2"/>
<circle cx="1741.8" cy="298.1" r="5.1" fill="#ff0000"/>
<text x="1778.4" y="303" font-size="20" text-anchor="start" font-family="'DejaVu Sans', sans-serif" stroke="#000" stroke-width="0.3" textLength="186.1" lengthAdjust="spacing" >up-regulated(544)</text>
<circle cx="1741.8" cy="328.1" r="4.6" fill="#808080" stroke="#676767" stroke-width="1"/>
<text x="1778.4" y="333" font-size="20" text-anchor="start" font-family="'DejaVu Sans', sans-serif" stroke="#000" stroke-width="0.3" textLength="210.5" lengthAdjust="spacing" >none-significan(895)</text>
<circle cx="1741.8" cy="358.1" r="5.1" fill="#0000ff"/>
<text x="1778.4" y="363" font-size="20" text-anchor="start" font-family="'DejaVu Sans', sans-serif" stroke="#000" stroke-width="0.3" textLength="215.3" lengthAdjust="spacing" >down-regulated(138)</text>
<clipPath id="cC"><rect x="61.1" y="854.6" width="590.75" height="684.1"/></clipPath>
<g clip-path="url(#cC)">
<g fill="#ff0000"><circle cx="395.1" cy="1149.4" r="5.0"/><circle cx="393.4" cy="1188.9" r="5.0"/><circle cx="397.9" cy="1201.1" r="5.0"/><circle cx="458.2" cy="1213.9" r="5.0"/><circle cx="391.5" cy="1231.4" r="5.0"/><circle cx="428.6" cy="1234.4" r="5.0"/><circle cx="456" cy="1251.6" r="5.0"/><circle cx="427.4" cy="1257.1" r="5.0"/><circle cx="397.9" cy="1259.1" r="5.0"/><circle cx="401.3" cy="1272.3" r="5.0"/><circle cx="374.7" cy="1276.5" r="5.0"/><circle cx="392.9" cy="1281" r="5.0"/><circle cx="407.7" cy="1280.4" r="5.0"/><circle cx="413.4" cy="1286.6" r="5.0"/><circle cx="376.6" cy="1288.3" r="5.0"/><circle cx="409.7" cy="1293.3" r="5.0"/><circle cx="387.8" cy="1300.1" r="5.0"/><circle cx="395.4" cy="1300.1" r="5.0"/><circle cx="391.2" cy="1304.3" r="5.0"/><circle cx="378.6" cy="1307.6" r="5.0"/><circle cx="387" cy="1306.8" r="5.0"/><circle cx="399.6" cy="1306" r="5.0"/><circle cx="406.4" cy="1304.3" r="5.0"/><circle cx="398.8" cy="1309.3" r="5.0"/><circle cx="393.7" cy="1316.9" r="5.0"/><circle cx="398.8" cy="1321.1" r="5.0"/><circle cx="406.4" cy="1322" r="5.0"/><circle cx="413.9" cy="1320.3" r="5.0"/><circle cx="421.5" cy="1318.6" r="5.0"/><circle cx="418.1" cy="1321.1" r="5.0"/><circle cx="412.2" cy="1327.8" r="5.0"/><circle cx="386.2" cy="1323.6" r="5.0"/><circle cx="379.4" cy="1330.4" r="5.0"/><circle cx="386.2" cy="1329.5" r="5.0"/><circle cx="428.2" cy="1329" r="5.0"/><circle cx="478.4" cy="1332.9" r="5.0"/><circle cx="520.9" cy="1333.7" r="5.0"/><circle cx="509.9" cy="1337.4" r="5.0"/><circle cx="496.1" cy="1341.3" r="5.0"/><circle cx="445.9" cy="1343.3" r="5.0"/><circle cx="420.3" cy="1340.8" r="5.0"/><circle cx="408" cy="1340.5" r="5.0"/><circle cx="399.1" cy="1341.3" r="5.0"/><circle cx="463.6" cy="1358.5" r="5.0"/><circle cx="449.3" cy="1361" r="5.0"/><circle cx="445.9" cy="1363.5" r="5.0"/><circle cx="439.7" cy="1369.4" r="5.0"/><circle cx="470.5" cy="1370.3" r="5.0"/><circle cx="436.3" cy="1383.9" r="5.0"/><circle cx="423.2" cy="1375.8" r="5.0"/><circle cx="426.6" cy="1382.6" r="5.0"/><circle cx="415.6" cy="1374.1" r="5.0"/><circle cx="406.4" cy="1372.5" r="5.0"/><circle cx="376.5" cy="1335.4" r="5.0"/><circle cx="379.9" cy="1334.9" r="5.0"/><circle cx="384.3" cy="1334.7" r="5.0"/><circle cx="387.3" cy="1335.4" r="5.0"/><circle cx="374" cy="1342.7" r="5.0"/><circle cx="377.1" cy="1342.2" r="5.0"/><circle cx="381.7" cy="1341.5" r="5.0"/><circle cx="385.1" cy="1342.4" r="5.0"/><circle cx="389" cy="1342.1" r="5.0"/><circle cx="399.3" cy="1342.5" r="5.0"/><circle cx="403.3" cy="1341.8" r="5.0"/><circle cx="408.4" cy="1341.6" r="5.0"/><circle cx="420.2" cy="1342.2" r="5.0"/><circle cx="372.3" cy="1348.9" r="5.0"/><circle cx="376.9" cy="1349" r="5.0"/><circle cx="380.5" cy="1348.7" r="5.0"/><circle cx="384" cy="1349.2" r="5.0"/><circle cx="395.1" cy="1348.3" r="5.0"/><circle cx="398.7" cy="1349.1" r="5.0"/><circle cx="403.3" cy="1348.8" r="5.0"/><circle cx="406.3" cy="1348.6" r="5.0"/><circle cx="410.9" cy="1348.5" r="5.0"/><circle cx="374.9" cy="1355.3" r="5.0"/><circle cx="379.9" cy="1355.2" r="5.0"/><circle cx="384" cy="1356.2" r="5.0"/><circle cx="395.1" cy="1356.2" r="5.0"/><circle cx="398.3" cy="1355.5" r="5.0"/><circle cx="403" cy="1355" r="5.0"/><circle cx="406.8" cy="1356.2" r="5.0"/><circle cx="410.9" cy="1355.1" r="5.0"/><circle cx="374.9" cy="1362.5" r="5.0"/><circle cx="378" cy="1362.5" r="5.0"/><circle cx="382.3" cy="1362.9" r="5.0"/><circle cx="395.9" cy="1361.9" r="5.0"/><circle cx="399" cy="1361.8" r="5.0"/><circle cx="403.7" cy="1361.7" r="5.0"/><circle cx="406.8" cy="1362.4" r="5.0"/><circle cx="412" cy="1362.3" r="5.0"/><circle cx="415.1" cy="1362.2" r="5.0"/><circle cx="371.5" cy="1369.3" r="5.0"/><circle cx="374.8" cy="1369.2" r="5.0"/><circle cx="378.9" cy="1369.2" r="5.0"/><circle cx="384.1" cy="1368.5" r="5.0"/><circle cx="387.4" cy="1369.2" r="5.0"/><circle cx="390.7" cy="1368.8" r="5.0"/><circle cx="396" cy="1369.8" r="5.0"/><circle cx="399.1" cy="1368.6" r="5.0"/><circle cx="407.2" cy="1369.1" r="5.0"/><circle cx="371.5" cy="1376.1" r="5.0"/><circle cx="376.3" cy="1375.5" r="5.0"/><circle cx="379.8" cy="1375.2" r="5.0"/><circle cx="383.5" cy="1376.1" r="5.0"/><circle cx="387.9" cy="1376.2" r="5.0"/><circle cx="391.2" cy="1375.6" r="5.0"/><circle cx="396.5" cy="1376" r="5.0"/><circle cx="399.9" cy="1375.7" r="5.0"/><circle cx="404.8" cy="1375.9" r="5.0"/><circle cx="407.3" cy="1376.3" r="5.0"/><circle cx="411.9" cy="1375.7" r="5.0"/><circle cx="415.8" cy="1375.8" r="5.0"/><circle cx="420" cy="1375.3" r="5.0"/><circle cx="424.4" cy="1376" r="5.0"/><circle cx="374.9" cy="1382" r="5.0"/><circle cx="379.2" cy="1381.9" r="5.0"/><circle cx="383.1" cy="1383" r="5.0"/><circle cx="386.5" cy="1382.9" r="5.0"/><circle cx="390" cy="1382.9" r="5.0"/><circle cx="394.1" cy="1382.2" r="5.0"/><circle cx="398.9" cy="1382.4" r="5.0"/><circle cx="401.8" cy="1383.1" r="5.0"/><circle cx="405.9" cy="1382.4" r="5.0"/><circle cx="423.7" cy="1382.8" r="5.0"/><circle cx="426.1" cy="1382.1" r="5.0"/><circle cx="648.3" cy="886.1" r="5.0"/><circle cx="648.3" cy="897" r="5.0"/><circle cx="648.3" cy="931" r="5.0"/><circle cx="648.3" cy="935" r="5.0"/><circle cx="648.3" cy="947" r="5.0"/><circle cx="648.3" cy="952" r="5.0"/><circle cx="648.3" cy="957" r="5.0"/><circle cx="648.3" cy="962" r="5.0"/><circle cx="648.3" cy="967" r="5.0"/><circle cx="648.3" cy="982.9" r="5.0"/><circle cx="648.3" cy="1002.1" r="5.0"/><circle cx="648.3" cy="1023.8" r="5.0"/><circle cx="648.3" cy="1045" r="5.0"/><circle cx="648.3" cy="1051" r="5.0"/><circle cx="648.3" cy="1063" r="5.0"/><circle cx="648.3" cy="1077.6" r="5.0"/><circle cx="648.3" cy="1081.5" r="5.0"/><circle cx="648.3" cy="1098" r="5.0"/><circle cx="648.3" cy="1103.4" r="5.0"/><circle cx="648.3" cy="1108.8" r="5.0"/><circle cx="648.3" cy="1114.2" r="5.0"/><circle cx="648.3" cy="1119.6" r="5.0"/><circle cx="648.3" cy="1125" r="5.0"/><circle cx="648.3" cy="1135.2" r="5.0"/><circle cx="648.3" cy="1153" r="5.0"/><circle cx="648.3" cy="1157.7" r="5.0"/><circle cx="648.3" cy="1162.4" r="5.0"/><circle cx="648.3" cy="1167.1" r="5.0"/><circle cx="648.3" cy="1171.8" r="5.0"/><circle cx="648.3" cy="1176.4" r="5.0"/><circle cx="648.3" cy="1181.1" r="5.0"/><circle cx="648.3" cy="1185.8" r="5.0"/><circle cx="648.3" cy="1190.5" r="5.0"/><circle cx="648.3" cy="1195.2" r="5.0"/><circle cx="648.3" cy="1199.9" r="5.0"/><circle cx="648.3" cy="1204.6" r="5.0"/><circle cx="648.3" cy="1209.2" r="5.0"/><circle cx="648.3" cy="1213.9" r="5.0"/><circle cx="648.3" cy="1218.6" r="5.0"/><circle cx="648.3" cy="1223.3" r="5.0"/><circle cx="648.3" cy="1228" r="5.0"/><circle cx="648.3" cy="1241" r="5.0"/><circle cx="648.3" cy="1247" r="5.0"/><circle cx="648.3" cy="1252.8" r="5.0"/><circle cx="648.3" cy="1263.8" r="5.0"/><circle cx="648.3" cy="1277.8" r="5.0"/></g>
<defs><g id="g3"><circle cx="209.1" cy="1387.7" r="3.9"/><circle cx="205.2" cy="1401.6" r="3.9"/><circle cx="220.3" cy="1409.6" r="3.9"/><circle cx="273.7" cy="1390" r="3.9"/><circle cx="333.6" cy="1394.1" r="3.9"/><circle cx="262.6" cy="1396" r="3.9"/><circle cx="261" cy="1401.6" r="3.9"/><circle cx="258.6" cy="1408" r="3.9"/><circle cx="237.9" cy="1406.9" r="3.9"/><circle cx="241.8" cy="1405.9" r="3.9"/><circle cx="241" cy="1412.8" r="3.9"/><circle cx="241.8" cy="1418.4" r="3.9"/><circle cx="280.9" cy="1410.4" r="3.9"/><circle cx="279.3" cy="1421.2" r="3.9"/><circle cx="258.6" cy="1422.3" r="3.9"/><circle cx="261" cy="1423.1" r="3.9"/><circle cx="241.8" cy="1430.3" r="3.9"/><circle cx="247.4" cy="1430.3" r="3.9"/><circle cx="245.8" cy="1434.3" r="3.9"/><circle cx="232.3" cy="1436.2" r="3.9"/><circle cx="273.3" cy="1443.1" r="3.9"/><circle cx="287.6" cy="1459" r="3.9"/><circle cx="262.9" cy="1469.4" r="3.9"/><circle cx="308.8" cy="1475.8" r="3.9"/><circle cx="312.8" cy="1473.4" r="3.9"/><circle cx="366.3" cy="1387.2" r="3.9"/><circle cx="443.6" cy="1389.3" r="3.9"/><circle cx="457.5" cy="1393.6" r="3.9"/><circle cx="459.3" cy="1405.9" r="3.9"/><circle cx="423.7" cy="1392.8" r="3.9"/><circle cx="419.7" cy="1388" r="3.9"/><circle cx="446.8" cy="1413.6" r="3.9"/><circle cx="442" cy="1418.4" r="3.9"/><circle cx="436.5" cy="1423.1" r="3.9"/><circle cx="422.9" cy="1408" r="3.9"/><circle cx="416.5" cy="1412" r="3.9"/><circle cx="426.1" cy="1420.7" r="3.9"/><circle cx="422.1" cy="1423.1" r="3.9"/><circle cx="424.5" cy="1433.5" r="3.9"/><circle cx="445.5" cy="1437.5" r="3.9"/><circle cx="457.7" cy="1443.9" r="3.9"/><circle cx="434.9" cy="1443.1" r="3.9"/><circle cx="434.9" cy="1451.9" r="3.9"/><circle cx="418.1" cy="1463.8" r="3.9"/><circle cx="428.5" cy="1463" r="3.9"/><circle cx="431.7" cy="1462.7" r="3.9"/><circle cx="297.7" cy="1391.2" r="3.9"/><circle cx="312.7" cy="1391.2" r="3.9"/><circle cx="316.1" cy="1391.8" r="3.9"/><circle cx="319.3" cy="1391.2" r="3.9"/><circle cx="371.8" cy="1391.2" r="3.9"/><circle cx="376.2" cy="1390.8" r="3.9"/><circle cx="380.3" cy="1391.4" r="3.9"/><circle cx="385.1" cy="1390.7" r="3.9"/><circle cx="388.6" cy="1390.7" r="3.9"/><circle cx="393.7" cy="1391.5" r="3.9"/><circle cx="397.5" cy="1390.6" r="3.9"/><circle cx="292" cy="1398.3" r="3.9"/><circle cx="295.4" cy="1398.3" r="3.9"/><circle cx="306.4" cy="1397.8" r="3.9"/><circle cx="311.4" cy="1397.1" r="3.9"/><circle cx="316.1" cy="1396.9" r="3.9"/><circle cx="371.8" cy="1397.7" r="3.9"/><circle cx="374.9" cy="1397.2" r="3.9"/><circle cx="379" cy="1397" r="3.9"/><circle cx="383.2" cy="1397.5" r="3.9"/><circle cx="387.7" cy="1397.6" r="3.9"/><circle cx="391.2" cy="1397.6" r="3.9"/><circle cx="395.1" cy="1397.6" r="3.9"/><circle cx="398.3" cy="1398.3" r="3.9"/><circle cx="403.3" cy="1398.1" r="3.9"/><circle cx="406.7" cy="1397.4" r="3.9"/><circle cx="410.2" cy="1397.2" r="3.9"/><circle cx="291.2" cy="1403.7" r="3.9"/><circle cx="294.4" cy="1404.4" r="3.9"/><circle cx="298.7" cy="1404.5" r="3.9"/><circle cx="302.5" cy="1404.6" r="3.9"/><circle cx="306.5" cy="1404.5" r="3.9"/><circle cx="371.8" cy="1403.3" r="3.9"/><circle cx="375.3" cy="1404.6" r="3.9"/><circle cx="379.7" cy="1404.7" r="3.9"/><circle cx="383.6" cy="1403.4" r="3.9"/><circle cx="388" cy="1404.4" r="3.9"/><circle cx="391.4" cy="1403.4" r="3.9"/><circle cx="395.5" cy="1404.6" r="3.9"/><circle cx="400.2" cy="1403.5" r="3.9"/><circle cx="403.4" cy="1403.4" r="3.9"/><circle cx="407.1" cy="1404.4" r="3.9"/><circle cx="411.8" cy="1403.5" r="3.9"/><circle cx="294.4" cy="1410.5" r="3.9"/><circle cx="298.8" cy="1409.9" r="3.9"/><circle cx="303.3" cy="1410.7" r="3.9"/><circle cx="327.1" cy="1409.9" r="3.9"/><circle cx="331.1" cy="1409.8" r="3.9"/><circle cx="334.5" cy="1410" r="3.9"/><circle cx="338.4" cy="1410.1" r="3.9"/><circle cx="361.5" cy="1410.4" r="3.9"/><circle cx="371.8" cy="1411" r="3.9"/><circle cx="376.3" cy="1410.1" r="3.9"/><circle cx="380.6" cy="1410" r="3.9"/><circle cx="383.9" cy="1410.9" r="3.9"/><circle cx="388.4" cy="1409.8" r="3.9"/><circle cx="393" cy="1410" r="3.9"/><circle cx="395.9" cy="1410.8" r="3.9"/><circle cx="400.2" cy="1410.1" r="3.9"/><circle cx="403.8" cy="1409.8" r="3.9"/><circle cx="408.6" cy="1410.5" r="3.9"/><circle cx="295.2" cy="1416.4" r="3.9"/><circle cx="300.2" cy="1416.9" r="3.9"/><circle cx="312.7" cy="1416.6" r="3.9"/><circle cx="316.5" cy="1417.4" r="3.9"/><circle cx="320.3" cy="1416.9" r="3.9"/><circle cx="324.8" cy="1416.3" r="3.9"/><circle cx="327.4" cy="1417.3" r="3.9"/><circle cx="332.3" cy="1416.4" r="3.9"/><circle cx="335.1" cy="1417.1" r="3.9"/><circle cx="340.1" cy="1416.3" r="3.9"/><circle cx="343.2" cy="1417.4" r="3.9"/><circle cx="360.3" cy="1416.8" r="3.9"/><circle cx="371.8" cy="1417.3" r="3.9"/><circle cx="376" cy="1416.6" r="3.9"/><circle cx="379.3" cy="1416.1" r="3.9"/><circle cx="384.8" cy="1416.4" r="3.9"/><circle cx="388.5" cy="1416.4" r="3.9"/><circle cx="392.8" cy="1416.9" r="3.9"/><circle cx="396" cy="1416.3" r="3.9"/><circle cx="400.8" cy="1416.2" r="3.9"/><circle cx="404.1" cy="1416.8" r="3.9"/><circle cx="408.6" cy="1417.3" r="3.9"/><circle cx="297.7" cy="1423.1" r="3.9"/><circle cx="311.1" cy="1423.3" r="3.9"/><circle cx="314.8" cy="1423.7" r="3.9"/><circle cx="318.7" cy="1422.5" r="3.9"/><circle cx="322.8" cy="1423.1" r="3.9"/><circle cx="326.5" cy="1422.7" r="3.9"/><circle cx="331" cy="1423.2" r="3.9"/><circle cx="334.6" cy="1422.9" r="3.9"/><circle cx="339.8" cy="1423.8" r="3.9"/><circle cx="343.2" cy="1423.4" r="3.9"/><circle cx="359.9" cy="1423.1" r="3.9"/><circle cx="371.8" cy="1423.4" r="3.9"/><circle cx="375.9" cy="1422.6" r="3.9"/><circle cx="379" cy="1422.5" r="3.9"/><circle cx="384.4" cy="1423.4" r="3.9"/><circle cx="388.5" cy="1422.5" r="3.9"/><circle cx="392" cy="1423.1" r="3.9"/><circle cx="396.2" cy="1422.9" r="3.9"/><circle cx="400.6" cy="1422.5" r="3.9"/><circle cx="403.9" cy="1423.5" r="3.9"/><circle cx="408.4" cy="1423.5" r="3.9"/><circle cx="411.8" cy="1423.4" r="3.9"/><circle cx="289.3" cy="1429.5" r="3.9"/><circle cx="309.6" cy="1429.9" r="3.9"/><circle cx="314" cy="1429.3" r="3.9"/><circle cx="317.4" cy="1430.1" r="3.9"/><circle cx="320.9" cy="1430" r="3.9"/><circle cx="335.1" cy="1429.4" r="3.9"/><circle cx="339.6" cy="1430" r="3.9"/><circle cx="343.2" cy="1429.6" r="3.9"/><circle cx="370.2" cy="1429.7" r="3.9"/><circle cx="373.9" cy="1429.6" r="3.9"/><circle cx="378.2" cy="1428.9" r="3.9"/><circle cx="382.2" cy="1430.2" r="3.9"/><circle cx="386.5" cy="1429.8" r="3.9"/><circle cx="389.6" cy="1429.8" r="3.9"/><circle cx="393.9" cy="1429.4" r="3.9"/><circle cx="398.2" cy="1428.9" r="3.9"/><circle cx="402" cy="1428.9" r="3.9"/><circle cx="405.7" cy="1429.5" r="3.9"/><circle cx="409" cy="1429.8" r="3.9"/><circle cx="413.4" cy="1429.5" r="3.9"/><circle cx="290.4" cy="1436.1" r="3.9"/><circle cx="294.4" cy="1435.6" r="3.9"/><circle cx="297" cy="1435.2" r="3.9"/><circle cx="309.6" cy="1435.6" r="3.9"/><circle cx="314" cy="1435.5" r="3.9"/><circle cx="317.4" cy="1436.5" r="3.9"/><circle cx="322.4" cy="1435.8" r="3.9"/><circle cx="327" cy="1435.7" r="3.9"/><circle cx="330.9" cy="1435.5" r="3.9"/><circle cx="334.7" cy="1436.3" r="3.9"/><circle cx="339.7" cy="1436.4" r="3.9"/><circle cx="343.2" cy="1435.7" r="3.9"/><circle cx="360.7" cy="1435.9" r="3.9"/><circle cx="370.2" cy="1436" r="3.9"/><circle cx="373.9" cy="1435.4" r="3.9"/><circle cx="378.3" cy="1436.4" r="3.9"/><circle cx="382.9" cy="1436.2" r="3.9"/><circle cx="387.1" cy="1435.6" r="3.9"/><circle cx="389.9" cy="1435.8" r="3.9"/><circle cx="394.2" cy="1435.5" r="3.9"/><circle cx="398.5" cy="1436.1" r="3.9"/><circle cx="402.7" cy="1435.6" r="3.9"/><circle cx="407.3" cy="1436.6" r="3.9"/><circle cx="410.7" cy="1435.3" r="3.9"/><circle cx="414.1" cy="1436.4" r="3.9"/><circle cx="418.2" cy="1436.2" r="3.9"/><circle cx="423" cy="1436" r="3.9"/><circle cx="296.8" cy="1442" r="3.9"/><circle cx="301.6" cy="1441.6" r="3.9"/><circle cx="304.8" cy="1442.2" r="3.9"/><circle cx="309.7" cy="1441.6" r="3.9"/><circle cx="320.7" cy="1442.7" r="3.9"/><circle cx="324.6" cy="1441.8" r="3.9"/><circle cx="328.6" cy="1442.5" r="3.9"/><circle cx="333.5" cy="1442.5" r="3.9"/><circle cx="338.1" cy="1442.7" r="3.9"/><circle cx="342.9" cy="1442.5" r="3.9"/><circle cx="346.4" cy="1441.9" r="3.9"/><circle cx="361.1" cy="1442.3" r="3.9"/><circle cx="370.2" cy="1442.2" r="3.9"/><circle cx="373.6" cy="1441.6" r="3.9"/><circle cx="378" cy="1442.6" r="3.9"/><circle cx="381.5" cy="1442" r="3.9"/><circle cx="385.7" cy="1442.6" r="3.9"/><circle cx="389.9" cy="1442.4" r="3.9"/><circle cx="394.2" cy="1442.1" r="3.9"/><circle cx="398.2" cy="1442.9" r="3.9"/><circle cx="401" cy="1442.9" r="3.9"/><circle cx="406" cy="1441.8" r="3.9"/><circle cx="409.5" cy="1442.5" r="3.9"/><circle cx="414.2" cy="1442.1" r="3.9"/><circle cx="417.6" cy="1442.8" r="3.9"/><circle cx="421.4" cy="1442.7" r="3.9"/><circle cx="309.6" cy="1449.3" r="3.9"/><circle cx="311.3" cy="1448.6" r="3.9"/><circle cx="322.3" cy="1448.9" r="3.9"/><circle cx="326.1" cy="1449" r="3.9"/><circle cx="331.4" cy="1448.9" r="3.9"/><circle cx="335.5" cy="1448.3" r="3.9"/><circle cx="340.1" cy="1449.3" r="3.9"/><circle cx="344.5" cy="1448.7" r="3.9"/><circle cx="348" cy="1449.1" r="3.9"/><circle cx="361.5" cy="1448.7" r="3.9"/><circle cx="370.2" cy="1448.4" r="3.9"/><circle cx="374.8" cy="1449.2" r="3.9"/><circle cx="377.8" cy="1448.1" r="3.9"/><circle cx="381.9" cy="1448.7" r="3.9"/><circle cx="386.4" cy="1448.6" r="3.9"/><circle cx="389.1" cy="1449.1" r="3.9"/><circle cx="393.1" cy="1449.1" r="3.9"/><circle cx="397.2" cy="1448.4" r="3.9"/><circle cx="402.1" cy="1448.2" r="3.9"/><circle cx="405.1" cy="1448.7" r="3.9"/><circle cx="409.9" cy="1449.1" r="3.9"/><circle cx="413.8" cy="1449.3" r="3.9"/><circle cx="417.4" cy="1449.3" r="3.9"/><circle cx="421.4" cy="1448.1" r="3.9"/><circle cx="308" cy="1454.7" r="3.9"/><circle cx="309.7" cy="1455.1" r="3.9"/><circle cx="322.3" cy="1454.7" r="3.9"/><circle cx="326.6" cy="1455.2" r="3.9"/><circle cx="330.1" cy="1455.5" r="3.9"/><circle cx="334.1" cy="1454.8" r="3.9"/><circle cx="337.7" cy="1455.5" r="3.9"/><circle cx="342.4" cy="1454.6" r="3.9"/><circle cx="346.3" cy="1455.7" r="3.9"/><circle cx="349.6" cy="1455.1" r="3.9"/><circle cx="363.8" cy="1455.1" r="3.9"/><circle cx="367.3" cy="1455.1" r="3.9"/><circle cx="371.8" cy="1455.2" r="3.9"/><circle cx="375" cy="1455.7" r="3.9"/><circle cx="379.8" cy="1454.9" r="3.9"/><circle cx="384.3" cy="1455.1" r="3.9"/><circle cx="387.8" cy="1455.3" r="3.9"/><circle cx="391.1" cy="1455.1" r="3.9"/><circle cx="395.6" cy="1455.7" r="3.9"/><circle cx="400.5" cy="1454.7" r="3.9"/><circle cx="403.7" cy="1454.5" r="3.9"/><circle cx="407.7" cy="1455.5" r="3.9"/><circle cx="412.4" cy="1455" r="3.9"/><circle cx="415.5" cy="1454.6" r="3.9"/><circle cx="419.8" cy="1455.2" r="3.9"/><circle cx="320.7" cy="1462" r="3.9"/><circle cx="323.9" cy="1461.8" r="3.9"/><circle cx="327.6" cy="1461" r="3.9"/><circle cx="331.7" cy="1461.7" r="3.9"/><circle cx="335.7" cy="1461.2" r="3.9"/><circle cx="340" cy="1460.9" r="3.9"/><circle cx="343.9" cy="1460.9" r="3.9"/><circle cx="347.4" cy="1461.1" r="3.9"/><circle cx="351.2" cy="1461" r="3.9"/><circle cx="362.2" cy="1461.5" r="3.9"/><circle cx="366" cy="1461.2" r="3.9"/><circle cx="369.9" cy="1461.5" r="3.9"/><circle cx="373.4" cy="1461" r="3.9"/><circle cx="378.1" cy="1461.6" r="3.9"/><circle cx="381.9" cy="1461.9" r="3.9"/><circle cx="386" cy="1461.9" r="3.9"/><circle cx="389.3" cy="1461.8" r="3.9"/><circle cx="394.1" cy="1462" r="3.9"/><circle cx="397.3" cy="1461.2" r="3.9"/><circle cx="402.2" cy="1461" r="3.9"/><circle cx="405.4" cy="1462.1" r="3.9"/><circle cx="321.5" cy="1468.3" r="3.9"/><circle cx="325" cy="1467.4" r="3.9"/><circle cx="330" cy="1467.5" r="3.9"/><circle cx="333.1" cy="1468.3" r="3.9"/><circle cx="337.7" cy="1468.2" r="3.9"/><circle cx="341.3" cy="1467.7" r="3.9"/><circle cx="346.3" cy="1467.1" r="3.9"/><circle cx="349.6" cy="1468.1" r="3.9"/><circle cx="354.8" cy="1468.5" r="3.9"/><circle cx="357.6" cy="1467.8" r="3.9"/><circle cx="362.7" cy="1467.8" r="3.9"/><circle cx="366.7" cy="1467.4" r="3.9"/><circle cx="369.8" cy="1467.3" r="3.9"/><circle cx="373.8" cy="1467.9" r="3.9"/><circle cx="378.7" cy="1467.9" r="3.9"/><circle cx="382.2" cy="1467.4" r="3.9"/><circle cx="386.3" cy="1468.3" r="3.9"/><circle cx="391.7" cy="1468.4" r="3.9"/><circle cx="394.3" cy="1467.2" r="3.9"/><circle cx="399.1" cy="1468.4" r="3.9"/><circle cx="325.5" cy="1474.1" r="3.9"/><circle cx="330" cy="1473.9" r="3.9"/><circle cx="333.5" cy="1474.2" r="3.9"/><circle cx="337.5" cy="1474.3" r="3.9"/><circle cx="340.9" cy="1474.5" r="3.9"/><circle cx="346.3" cy="1473.7" r="3.9"/><circle cx="349.7" cy="1474.5" r="3.9"/><circle cx="353.6" cy="1473.8" r="3.9"/><circle cx="357.3" cy="1474.2" r="3.9"/><circle cx="361.1" cy="1474.7" r="3.9"/><circle cx="366.4" cy="1474.5" r="3.9"/><circle cx="370.5" cy="1474.4" r="3.9"/><circle cx="373.8" cy="1474.3" r="3.9"/><circle cx="378.1" cy="1474.9" r="3.9"/><circle cx="382.6" cy="1473.8" r="3.9"/><circle cx="386.8" cy="1474.5" r="3.9"/><circle cx="390.6" cy="1474.6" r="3.9"/><circle cx="394.1" cy="1474.7" r="3.9"/><circle cx="398.3" cy="1474.7" r="3.9"/><circle cx="319.1" cy="1480.8" r="3.9"/><circle cx="323.5" cy="1480.9" r="3.9"/><circle cx="327" cy="1480.9" r="3.9"/><circle cx="330.4" cy="1480.3" r="3.9"/><circle cx="335.1" cy="1479.9" r="3.9"/><circle cx="338.9" cy="1480.8" r="3.9"/><circle cx="343.3" cy="1480.2" r="3.9"/><circle cx="347.8" cy="1480.8" r="3.9"/><circle cx="350.8" cy="1480.8" r="3.9"/><circle cx="355.2" cy="1480.6" r="3.9"/><circle cx="358.9" cy="1481.3" r="3.9"/><circle cx="363.3" cy="1480.8" r="3.9"/><circle cx="367.5" cy="1481.2" r="3.9"/><circle cx="370.3" cy="1480.7" r="3.9"/><circle cx="375.5" cy="1480.2" r="3.9"/><circle cx="378.9" cy="1479.9" r="3.9"/><circle cx="382.6" cy="1480.4" r="3.9"/><circle cx="386.4" cy="1480.2" r="3.9"/><circle cx="391.1" cy="1481.1" r="3.9"/><circle cx="320.7" cy="1487" r="3.9"/><circle cx="324.6" cy="1487.6" r="3.9"/><circle cx="328.6" cy="1487.6" r="3.9"/><circle cx="332.6" cy="1487.4" r="3.9"/><circle cx="335.6" cy="1487.1" r="3.9"/><circle cx="340.6" cy="1486.3" r="3.9"/><circle cx="344.8" cy="1486.5" r="3.9"/><circle cx="348" cy="1486.5" r="3.9"/><circle cx="351.9" cy="1487.1" r="3.9"/><circle cx="355.1" cy="1487.6" r="3.9"/><circle cx="359.6" cy="1487" r="3.9"/><circle cx="363.8" cy="1486.8" r="3.9"/><circle cx="367.2" cy="1487.2" r="3.9"/><circle cx="371.5" cy="1486.6" r="3.9"/><circle cx="375.6" cy="1486.7" r="3.9"/><circle cx="378.4" cy="1486.6" r="3.9"/><circle cx="383.1" cy="1486.3" r="3.9"/><circle cx="333.5" cy="1492.8" r="3.9"/><circle cx="337.8" cy="1493.2" r="3.9"/><circle cx="342" cy="1493.7" r="3.9"/><circle cx="344.6" cy="1494" r="3.9"/><circle cx="349.9" cy="1492.7" r="3.9"/><circle cx="353.8" cy="1493.2" r="3.9"/><circle cx="357" cy="1494" r="3.9"/><circle cx="360.6" cy="1493.4" r="3.9"/><circle cx="365.6" cy="1493.6" r="3.9"/><circle cx="368.8" cy="1494" r="3.9"/><circle cx="373.3" cy="1493.5" r="3.9"/><circle cx="376.7" cy="1492.8" r="3.9"/><circle cx="339.9" cy="1499.9" r="3.9"/><circle cx="343.6" cy="1499.3" r="3.9"/><circle cx="346.8" cy="1499.7" r="3.9"/><circle cx="350.7" cy="1499.6" r="3.9"/><circle cx="355.4" cy="1499.6" r="3.9"/><circle cx="358.5" cy="1499.8" r="3.9"/><circle cx="362.6" cy="1500.1" r="3.9"/><circle cx="366.6" cy="1500.4" r="3.9"/><circle cx="370.3" cy="1500.3" r="3.9"/><circle cx="351" cy="1506.1" r="3.9"/><circle cx="354.7" cy="1505.2" r="3.9"/><circle cx="359.2" cy="1506.3" r="3.9"/></g></defs><use href="#g3" fill="#676767" stroke="#676767" stroke-width="2"/><use href="#g3" fill="#7d7d7d" stroke="#7d7d7d" stroke-width="0.3"/>
<g fill="#0000ff"><circle cx="211.6" cy="1286.9" r="5.0"/><circle cx="319.7" cy="1288.6" r="5.0"/><circle cx="312.1" cy="1297.5" r="5.0"/><circle cx="305.3" cy="1298.7" r="5.0"/><circle cx="280.9" cy="1301.4" r="5.0"/><circle cx="302.8" cy="1325.8" r="5.0"/><circle cx="312.9" cy="1325.3" r="5.0"/><circle cx="276.7" cy="1332.9" r="5.0"/><circle cx="273.7" cy="1335.4" r="5.0"/><circle cx="306.2" cy="1334.6" r="5.0"/><circle cx="306.7" cy="1338.8" r="5.0"/><circle cx="328.9" cy="1334.6" r="5.0"/><circle cx="239.8" cy="1336.1" r="5.0"/><circle cx="284.3" cy="1341.7" r="5.0"/><circle cx="214.9" cy="1343.3" r="5.0"/><circle cx="336.2" cy="1343" r="5.0"/><circle cx="268.3" cy="1345.9" r="5.0"/><circle cx="306.2" cy="1345.2" r="5.0"/><circle cx="324.2" cy="1352.3" r="5.0"/><circle cx="289.3" cy="1357" r="5.0"/><circle cx="339.5" cy="1355.3" r="5.0"/><circle cx="333.5" cy="1360.2" r="5.0"/><circle cx="341" cy="1360.2" r="5.0"/><circle cx="291.9" cy="1364" r="5.0"/><circle cx="298.3" cy="1362.9" r="5.0"/><circle cx="312.2" cy="1363.5" r="5.0"/><circle cx="303.2" cy="1369.9" r="5.0"/><circle cx="304.5" cy="1376.7" r="5.0"/><circle cx="278.4" cy="1376.8" r="5.0"/><circle cx="345.2" cy="1376.2" r="5.0"/><circle cx="314.9" cy="1378.4" r="5.0"/><circle cx="320.5" cy="1376.7" r="5.0"/><circle cx="323.9" cy="1381.7" r="5.0"/><circle cx="234.1" cy="1383.9" r="5.0"/><circle cx="248.1" cy="1385.1" r="5.0"/><circle cx="299.4" cy="1385.1" r="5.0"/><circle cx="65.2" cy="930.5" r="5.0"/><circle cx="65.2" cy="956.8" r="5.0"/><circle cx="65.2" cy="997.4" r="5.0"/><circle cx="65.2" cy="1080.1" r="5.0"/><circle cx="65.2" cy="1108.6" r="5.0"/><circle cx="65.2" cy="1115.2" r="5.0"/><circle cx="65.2" cy="1130.9" r="5.0"/><circle cx="65.2" cy="1146.1" r="5.0"/><circle cx="65.2" cy="1161" r="5.0"/><circle cx="65.2" cy="1166.5" r="5.0"/><circle cx="65.2" cy="1180.1" r="5.0"/><circle cx="65.2" cy="1197.1" r="5.0"/><circle cx="65.2" cy="1253.9" r="5.0"/><circle cx="65.2" cy="1268.6" r="5.0"/><circle cx="65.2" cy="1276.2" r="5.0"/><circle cx="65.2" cy="1285.6" r="5.0"/></g>
<path d="M346.33 1538.7V854.6" stroke="#000" stroke-width="2" stroke-dasharray="7.4 3.2" fill="none"/>
<path d="M366.47 1538.7V854.6" stroke="#000" stroke-width="2" stroke-dasharray="7.4 3.2" fill="none"/>
<path d="M61.1 1385.14H651.85" stroke="#000" stroke-width="2" stroke-dasharray="7.4 3.2" fill="none"/>
</g>
<text x="257.6" y="934.5" font-size="20" text-anchor="start" font-family="'DejaVu Sans', sans-serif" stroke="#000" stroke-width="0.3" textLength="95" lengthAdjust="spacing" >FC=1/1.2</text>
<text x="366.2" y="934.5" font-size="20" text-anchor="start" font-family="'DejaVu Sans', sans-serif" stroke="#000" stroke-width="0.3" textLength="76.6" lengthAdjust="spacing" >FC=1.2</text>
<text x="518.4" y="1407.4" font-size="20" text-anchor="start" font-family="'DejaVu Sans', sans-serif" stroke="#000" stroke-width="0.3" textLength="138" lengthAdjust="spacing" >P-value=0.05</text>
<rect x="61.1" y="854.6" width="590.75" height="684.1" fill="none" stroke="#000" stroke-width="1.8"/>
<text x="126.6" y="1568.7" font-size="20" text-anchor="middle" font-family="'DejaVu Sans', sans-serif" stroke="#000" stroke-width="0.3" >−6</text>
<text x="203.2" y="1568.7" font-size="20" text-anchor="middle" font-family="'DejaVu Sans', sans-serif" stroke="#000" stroke-width="0.3" >−4</text>
<text x="279.8" y="1568.7" font-size="20" text-anchor="middle" font-family="'DejaVu Sans', sans-serif" stroke="#000" stroke-width="0.3" >−2</text>
<text x="356.4" y="1568.7" font-size="20" text-anchor="middle" font-family="'DejaVu Sans', sans-serif" stroke="#000" stroke-width="0.3" >0</text>
<text x="433" y="1568.7" font-size="20" text-anchor="middle" font-family="'DejaVu Sans', sans-serif" stroke="#000" stroke-width="0.3" >2</text>
<text x="509.6" y="1568.7" font-size="20" text-anchor="middle" font-family="'DejaVu Sans', sans-serif" stroke="#000" stroke-width="0.3" >4</text>
<text x="586.2" y="1568.7" font-size="20" text-anchor="middle" font-family="'DejaVu Sans', sans-serif" stroke="#000" stroke-width="0.3" >6</text>
<text x="46.9" y="1512.4" font-size="20" text-anchor="end" font-family="'DejaVu Sans', sans-serif" stroke="#000" stroke-width="0.3" >0</text>
<text x="46.9" y="1420.4" font-size="20" text-anchor="end" font-family="'DejaVu Sans', sans-serif" stroke="#000" stroke-width="0.3" >1</text>
<text x="46.9" y="1328.5" font-size="20" text-anchor="end" font-family="'DejaVu Sans', sans-serif" stroke="#000" stroke-width="0.3" >2</text>
<text x="46.9" y="1236.5" font-size="20" text-anchor="end" font-family="'DejaVu Sans', sans-serif" stroke="#000" stroke-width="0.3" >3</text>
<text x="46.9" y="1144.5" font-size="20" text-anchor="end" font-family="'DejaVu Sans', sans-serif" stroke="#000" stroke-width="0.3" >4</text>
<text x="46.9" y="1052.5" font-size="20" text-anchor="end" font-family="'DejaVu Sans', sans-serif" stroke="#000" stroke-width="0.3" >5</text>
<text x="46.9" y="960.6" font-size="20" text-anchor="end" font-family="'DejaVu Sans', sans-serif" stroke="#000" stroke-width="0.3" >6</text>
<text x="46.9" y="868.6" font-size="20" text-anchor="end" font-family="'DejaVu Sans', sans-serif" stroke="#000" stroke-width="0.3" >7</text>
<path d="M126.6 1538.7v7M203.2 1538.7v7M279.8 1538.7v7M356.4 1538.7v7M433 1538.7v7M509.6 1538.7v7M586.2 1538.7v7M61.1 1504.8h-7M61.1 1412.83h-7M61.1 1320.86h-7M61.1 1228.89h-7M61.1 1136.92h-7M61.1 1044.95h-7M61.1 952.98h-7M61.1 861.01h-7" stroke="#000" stroke-width="1.8" fill="none"/>
<text x="356.5" y="842.5" font-size="24" text-anchor="middle" font-family="'DejaVu Sans', sans-serif" stroke="#000" stroke-width="0.3" textLength="150.5" lengthAdjust="spacing" >Volcano Plot</text>
<text x="356.5" y="1596.5" font-size="20" text-anchor="middle" font-family="'DejaVu Sans', sans-serif" stroke="#000" stroke-width="0.3" textLength="86.5" lengthAdjust="spacing" >log2(FC)</text>
<text transform="translate(21.5 1196.65) rotate(-90)" font-size="20" text-anchor="middle" font-family="'DejaVu Sans', sans-serif" stroke="#000" stroke-width="0.3" textLength="154" lengthAdjust="spacing">-log10(P-value)</text>
<rect x="681.2" y="1100.7" width="296.6" height="96" rx="4" ry="4" fill="#fff" stroke="#cccccc" stroke-width="2"/>
<circle cx="709.8" cy="1119" r="5.1" fill="#ff0000"/>
<text x="746.4" y="1123.9" font-size="20" text-anchor="start" font-family="'DejaVu Sans', sans-serif" stroke="#000" stroke-width="0.3" textLength="186.1" lengthAdjust="spacing" >up-regulated(192)</text>
<circle cx="709.8" cy="1149" r="4.6" fill="#808080" stroke="#676767" stroke-width="1"/>
<text x="746.4" y="1153.9" font-size="20" text-anchor="start" font-family="'DejaVu Sans', sans-serif" stroke="#000" stroke-width="0.3" textLength="223.4" lengthAdjust="spacing" >none-significan(1106)</text>
<circle cx="709.8" cy="1179" r="5.1" fill="#0000ff"/>
<text x="746.4" y="1183.9" font-size="20" text-anchor="start" font-family="'DejaVu Sans', sans-serif" stroke="#000" stroke-width="0.3" textLength="202.3" lengthAdjust="spacing" >down-regulated(55)</text>
<circle cx="1374.3" cy="1117.7" r="163.6" fill="rgb(92,192,98)" fill-opacity="0.55" stroke="rgb(92,192,98)" stroke-opacity="0.4" stroke-width="1"/>
<circle cx="1591.7" cy="1117.7" r="163.6" fill="rgb(90,155,212)" fill-opacity="0.55" stroke="rgb(90,155,212)" stroke-opacity="0.4" stroke-width="1"/>
<circle cx="1483.3" cy="1328.2" r="163.6" fill="rgb(246,236,86)" fill-opacity="0.65" stroke="rgb(246,236,86)" stroke-opacity="0.4" stroke-width="1"/>
<text x="1332.9" y="1110.7" font-size="14" text-anchor="middle" font-family="'DejaVu Sans', sans-serif" stroke="#000" stroke-width="0.35" >55</text>
<text x="1483.4" y="1110.7" font-size="14" text-anchor="middle" font-family="'DejaVu Sans', sans-serif" stroke="#000" stroke-width="0.35" >123</text>
<text x="1633.4" y="1110.7" font-size="14" text-anchor="middle" font-family="'DejaVu Sans', sans-serif" stroke="#000" stroke-width="0.35" >409</text>
<text x="1483.2" y="1202.2" font-size="14" text-anchor="middle" font-family="'DejaVu Sans', sans-serif" stroke="#000" stroke-width="0.35" >22</text>
<text x="1411.8" y="1234.8" font-size="14" text-anchor="middle" font-family="'DejaVu Sans', sans-serif" stroke="#000" stroke-width="0.35" >18</text>
<text x="1555.2" y="1234.8" font-size="14" text-anchor="middle" font-family="'DejaVu Sans', sans-serif" stroke="#000" stroke-width="0.35" >128</text>
<text x="1483.2" y="1359" font-size="14" text-anchor="middle" font-family="'DejaVu Sans', sans-serif" stroke="#000" stroke-width="0.35" >79</text>
<rect x="1330" y="776.2" width="130" height="20" fill="#fff"/>
<text y="784.1" font-size="26.4" font-family="'Liberation Sans', sans-serif" stroke="#000" stroke-width="0.8"><tspan x="23.83" textLength="99.16" lengthAdjust="spacingAndGlyphs">Sclerotic</tspan> <tspan x="135.54" textLength="28.03" lengthAdjust="spacingAndGlyphs">VS</tspan> <tspan x="169.7" textLength="46.33" lengthAdjust="spacingAndGlyphs">FNF</tspan></text>
<text y="938" font-size="26.4" font-family="'Liberation Sans', sans-serif" stroke="#000" stroke-width="0.8"><tspan x="1141.43" textLength="98.85" lengthAdjust="spacingAndGlyphs">Sclerotic</tspan> <tspan x="1252.64" textLength="28.66" lengthAdjust="spacingAndGlyphs">VS</tspan> <tspan x="1287.46" textLength="45.06" lengthAdjust="spacingAndGlyphs">FNF</tspan></text>
<text y="782.5" font-size="26.4" font-family="'Liberation Sans', sans-serif" stroke="#000" stroke-width="0.8"><tspan x="1099.74" textLength="50.51" lengthAdjust="spacingAndGlyphs">FHN</tspan> <tspan x="1157.14" textLength="28.03" lengthAdjust="spacingAndGlyphs">VS</tspan> <tspan x="1190.85" textLength="45.27" lengthAdjust="spacingAndGlyphs">FNF</tspan></text>
<text y="939.8" font-size="26.4" font-family="'Liberation Sans', sans-serif" stroke="#000" stroke-width="0.8"><tspan x="1663.94" textLength="50.51" lengthAdjust="spacingAndGlyphs">FHN</tspan> <tspan x="1721.34" textLength="28.03" lengthAdjust="spacingAndGlyphs">VS</tspan> <tspan x="1755.03" textLength="45.69" lengthAdjust="spacingAndGlyphs">FNF</tspan></text>
<text y="1596.2" font-size="26.4" font-family="'Liberation Sans', sans-serif" stroke="#000" stroke-width="0.8"><tspan x="24.97" textLength="49.86" lengthAdjust="spacingAndGlyphs">FHN</tspan> <tspan x="83.24" textLength="28.13" lengthAdjust="spacingAndGlyphs">VS</tspan> <tspan x="117.11" textLength="100.08" lengthAdjust="spacingAndGlyphs">Sclerotic</tspan></text>
<text y="1541.8" font-size="26.4" font-family="'Liberation Sans', sans-serif" stroke="#000" stroke-width="0.8"><tspan x="1398.67" textLength="49.86" lengthAdjust="spacingAndGlyphs">FHN</tspan> <tspan x="1456.94" textLength="28.13" lengthAdjust="spacingAndGlyphs">VS</tspan> <tspan x="1490.83" textLength="99.16" lengthAdjust="spacingAndGlyphs">Sclerotic</tspan></text>
<text x="777.8" y="755.7" font-size="64.5" font-family="'Liberation Sans', sans-serif" textLength="36.3" lengthAdjust="spacingAndGlyphs" stroke="#000" stroke-width="1.5">A</text>
<text x="1819.4" y="755.7" font-size="64.5" font-family="'Liberation Sans', sans-serif" textLength="35.4" lengthAdjust="spacingAndGlyphs" stroke="#000" stroke-width="1.5">B</text>
<text x="772.8" y="1585.2" font-size="64.5" font-family="'Liberation Sans', sans-serif" textLength="36.5" lengthAdjust="spacingAndGlyphs" stroke="#000" stroke-width="1.5">C</text>
<text x="1823.4" y="1584.9" font-size="64.5" font-family="'Liberation Sans', sans-serif" textLength="43" lengthAdjust="spacingAndGlyphs" stroke="#000" stroke-width="1.5">D</text>
</svg></body></html>
